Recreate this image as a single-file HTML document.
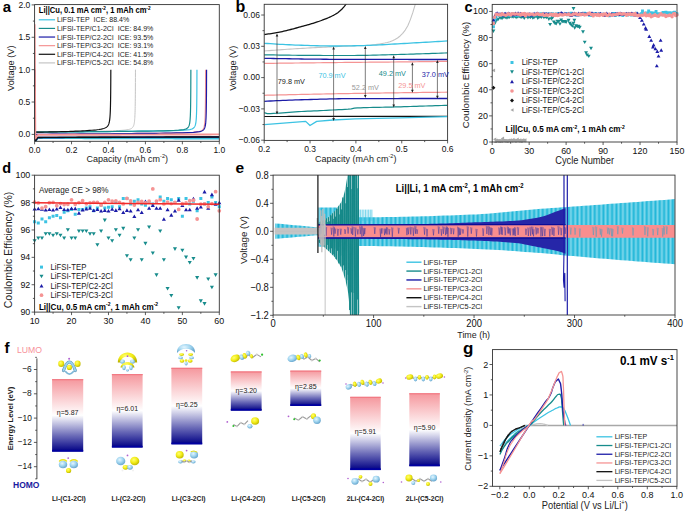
<!DOCTYPE html>
<html><head><meta charset="utf-8"><style>
html,body{margin:0;padding:0;background:#fff;width:685px;height:511px;overflow:hidden}
svg{display:block}
text{font-family:"Liberation Sans",sans-serif}
</style></head><body>
<svg width="685" height="511" viewBox="0 0 685 511">
<rect width="685" height="511" fill="#fff"/>
<clipPath id="ca"><rect x="34.6" y="4.6" width="184.7" height="136.7"/></clipPath>
<g clip-path="url(#ca)">
<polyline points="35.34,132.15 38.54,132.1 41.75,132.06 44.95,132.01 48.15,131.97 51.36,131.92 54.56,131.87 57.76,131.83 60.97,131.78 64.17,131.73 67.37,131.69 70.58,131.64 73.78,131.59 76.99,131.54 80.19,131.48 83.39,131.43 86.6,131.38 89.8,131.32 93,131.26 96.21,131.2 99.41,131.14 102.61,131.07 105.82,130.99 109.02,130.9 112.22,130.81 115.43,130.69 118.63,130.55 121.84,130.36 125.04,130.09 128.24,129.61 128.24,129.61 128.93,129.45 129.55,129.28 130.11,129.09 130.63,128.88 131.09,128.66 131.51,128.41 131.89,128.14 132.24,127.84 132.55,127.51 132.84,127.15 133.1,126.75 133.33,126.31 133.55,125.83 133.74,125.3 133.91,124.72 134.07,124.08 134.22,123.37 134.35,122.59 134.47,121.73 134.58,120.78 134.67,119.74 134.76,118.59 134.84,117.32 134.92,115.92 134.98,114.38 135.04,112.68 135.1,110.81 135.15,108.75 135.19,106.48 135.23,103.98 135.27,101.22 135.3,98.18 135.33,94.82 135.36,91.13 135.39,87.06 135.41,82.57 135.43,77.62 135.45,72.17 135.46,69.65" fill="none" stroke="#c4c4c4" stroke-width="1.0" stroke-linejoin="round" />
<polyline points="35.34,132.19 40.66,132.15 45.99,132.1 51.31,132.06 56.64,132.01 61.96,131.97 67.29,131.92 72.61,131.87 77.93,131.83 83.26,131.78 88.58,131.73 93.91,131.69 99.23,131.64 104.56,131.59 109.88,131.54 115.21,131.49 120.53,131.44 125.85,131.39 131.18,131.33 136.5,131.27 141.83,131.21 147.15,131.15 152.48,131.08 157.8,131.01 163.13,130.92 168.45,130.82 173.77,130.69 179.1,130.52 184.42,130.22 189.75,129.57 189.75,129.57 190.43,129.42 191.05,129.25 191.62,129.06 192.13,128.86 192.59,128.63 193.02,128.39 193.4,128.12 193.74,127.82 194.06,127.5 194.34,127.14 194.6,126.74 194.84,126.3 195.05,125.82 195.24,125.29 195.42,124.71 195.58,124.07 195.72,123.36 195.85,122.58 195.97,121.72 196.08,120.77 196.18,119.73 196.27,118.58 196.35,117.31 196.42,115.92 196.49,114.38 196.55,112.68 196.6,110.81 196.65,108.75 196.7,106.48 196.74,103.97 196.77,101.22 196.81,98.17 196.84,94.82 196.87,91.13 196.89,87.05 196.91,82.57 196.93,77.62 196.95,72.17 196.96,69.65" fill="none" stroke="#3cc3e3" stroke-width="1.2" stroke-linejoin="round" />
<polyline points="35.34,132.19 40.45,132.14 45.57,132.1 50.68,132.05 55.8,132.01 60.91,131.96 66.02,131.92 71.14,131.87 76.25,131.82 81.37,131.78 86.48,131.73 91.6,131.68 96.71,131.64 101.82,131.59 106.94,131.54 112.05,131.49 117.17,131.43 122.28,131.38 127.4,131.33 132.51,131.27 137.62,131.21 142.74,131.15 147.85,131.08 152.97,131 158.08,130.91 163.2,130.81 168.31,130.68 173.42,130.5 178.54,130.21 183.65,129.57 183.65,129.57 184.34,129.42 184.96,129.25 185.52,129.06 186.04,128.86 186.5,128.64 186.92,128.39 187.3,128.12 187.65,127.82 187.96,127.5 188.25,127.14 188.51,126.74 188.74,126.3 188.96,125.82 189.15,125.29 189.32,124.71 189.48,124.07 189.63,123.36 189.76,122.58 189.88,121.72 189.99,120.78 190.08,119.73 190.17,118.58 190.25,117.31 190.33,115.92 190.39,114.38 190.45,112.68 190.51,110.81 190.56,108.75 190.6,106.48 190.64,103.98 190.68,101.22 190.71,98.17 190.74,94.82 190.77,91.13 190.8,87.05 190.82,82.57 190.84,77.62 190.86,72.17 190.87,69.65" fill="none" stroke="#178c8c" stroke-width="1.2" stroke-linejoin="round" />
<polyline points="35.34,134.33 40.96,134.29 46.59,134.24 52.21,134.2 57.83,134.15 63.46,134.11 69.08,134.06 74.71,134.01 80.33,133.97 85.95,133.92 91.58,133.87 97.2,133.83 102.82,133.78 108.45,133.73 114.07,133.68 119.7,133.63 125.32,133.58 130.94,133.53 136.57,133.47 142.19,133.42 147.81,133.36 153.44,133.3 159.06,133.23 164.69,133.15 170.31,133.07 175.93,132.97 181.56,132.84 187.18,132.67 192.81,132.38 198.43,131.7 198.43,131.7 199.11,131.55 199.74,131.38 200.3,131.2 200.81,130.99 201.28,130.77 201.7,130.52 202.08,130.25 202.43,129.96 202.74,129.63 203.03,129.27 203.28,128.87 203.52,128.44 203.73,127.96 203.93,127.43 204.1,126.85 204.26,126.2 204.4,125.5 204.54,124.72 204.65,123.86 204.76,122.91 204.86,121.87 204.95,120.72 205.03,119.45 205.1,118.05 205.17,116.51 205.23,114.82 205.28,112.95 205.33,110.89 205.38,108.62 205.42,106.11 205.46,103.35 205.49,100.31 205.52,96.96 205.55,93.26 205.57,89.19 205.59,84.7 205.62,79.75 205.63,74.3 205.65,69.65" fill="none" stroke="#f59494" stroke-width="1.2" stroke-linejoin="round" />
<polyline points="35.34,134.33 40.99,134.29 46.65,134.24 52.31,134.2 57.96,134.15 63.62,134.11 69.27,134.06 74.93,134.01 80.58,133.97 86.24,133.92 91.9,133.88 97.55,133.83 103.21,133.78 108.86,133.73 114.52,133.68 120.17,133.63 125.83,133.58 131.48,133.53 137.14,133.47 142.8,133.42 148.45,133.36 154.11,133.3 159.76,133.23 165.42,133.16 171.07,133.07 176.73,132.97 182.39,132.85 188.04,132.67 193.7,132.38 199.35,131.7 199.35,131.7 200.04,131.55 200.66,131.38 201.22,131.2 201.73,130.99 202.2,130.77 202.62,130.52 203,130.25 203.35,129.96 203.66,129.63 203.95,129.27 204.21,128.87 204.44,128.44 204.66,127.96 204.85,127.43 205.02,126.85 205.18,126.2 205.33,125.5 205.46,124.72 205.58,123.86 205.69,122.91 205.78,121.87 205.87,120.72 205.95,119.45 206.03,118.05 206.09,116.51 206.15,114.82 206.21,112.95 206.26,110.89 206.3,108.62 206.34,106.11 206.38,103.35 206.41,100.31 206.44,96.96 206.47,93.26 206.5,89.19 206.52,84.7 206.54,79.75 206.56,74.3 206.57,69.65" fill="none" stroke="#1c1ca8" stroke-width="1.2" stroke-linejoin="round" />
<polyline points="35.34,132.07 37.7,132.06 40.05,132.05 42.41,132.03 44.76,132.01 47.12,131.98 49.48,131.94 51.83,131.91 54.19,131.86 56.55,131.81 58.9,131.76 61.26,131.7 63.62,131.63 65.97,131.56 68.33,131.49 70.69,131.4 73.04,131.31 75.4,131.22 77.76,131.11 80.11,131 82.47,130.87 84.83,130.74 87.18,130.59 89.54,130.43 91.9,130.24 94.25,130.03 96.61,129.78 98.96,129.47 101.32,129.07 103.68,128.47 103.68,128.47 104.31,128.25 104.89,128.02 105.42,127.77 105.91,127.51 106.35,127.22 106.76,126.91 107.13,126.58 107.47,126.22 107.78,125.82 108.06,125.4 108.32,124.93 108.55,124.43 108.77,123.88 108.97,123.28 109.15,122.62 109.31,121.91 109.46,121.13 109.6,120.28 109.73,119.35 109.84,118.33 109.95,117.22 110.04,116.01 110.13,114.68 110.21,113.23 110.29,111.64 110.35,109.91 110.41,108.01 110.47,105.93 110.52,103.66 110.57,101.18 110.61,98.46 110.65,95.49 110.69,92.23 110.72,88.68 110.75,84.78 110.78,80.53 110.8,75.87 110.82,70.77 110.83,69.65" fill="none" stroke="#111" stroke-width="1.2" stroke-linejoin="round" />
<polyline points="34.6,69.65 35.34,140.88 37.73,137.24 40.86,137.23 43.99,137.22 47.12,137.21 50.25,137.21 53.38,137.2 56.51,137.19 59.64,137.18 62.77,137.17 65.91,137.16 69.04,137.15 72.17,137.14 75.3,137.13 78.43,137.13 81.56,137.12 84.69,137.11 87.82,137.1 90.95,137.09 94.08,137.08 97.21,137.07 100.34,137.06 103.47,137.06 106.6,137.05 109.73,137.04 112.86,137.03 115.99,137.02 119.12,137.01 122.25,137 125.38,136.99 128.52,136.99 131.65,136.98 134.78,136.97 137.91,136.96 141.04,136.95 144.17,136.94 147.3,136.93 150.43,136.92 153.56,136.92 156.69,136.91 159.82,136.9 162.95,136.89 166.08,136.88 169.21,136.87 172.34,136.86 175.47,136.85 178.6,136.85 181.73,136.84 184.86,136.83 187.99,136.82 191.13,136.81 194.26,136.8 197.39,136.79 200.52,136.78 203.65,136.77 206.78,136.77 209.91,136.76 213.04,136.75 216.17,136.74 219.3,136.73" fill="none" stroke="#c4c4c4" stroke-width="1.0" stroke-linejoin="round" />
<polyline points="34.6,69.65 35.34,142.43 37.73,138.29 40.86,138.3 43.99,138.31 47.12,138.32 50.25,138.33 53.38,138.34 56.51,138.35 59.64,138.36 62.77,138.36 65.91,138.37 69.04,138.38 72.17,138.39 75.3,138.4 78.43,138.41 81.56,138.42 84.69,138.43 87.82,138.43 90.95,138.44 94.08,138.45 97.21,138.46 100.34,138.47 103.47,138.48 106.6,138.49 109.73,138.5 112.86,138.5 115.99,138.51 119.12,138.52 122.25,138.53 125.38,138.54 128.52,138.55 131.65,138.56 134.78,138.57 137.91,138.57 141.04,138.58 144.17,138.59 147.3,138.6 150.43,138.61 153.56,138.62 156.69,138.63 159.82,138.64 162.95,138.64 166.08,138.65 169.21,138.66 172.34,138.67 175.47,138.68 178.6,138.69 181.73,138.7 184.86,138.71 187.99,138.72 191.13,138.72 194.26,138.73 197.39,138.74 200.52,138.75 203.65,138.76 206.78,138.77 209.91,138.78 213.04,138.79 216.17,138.79 219.3,138.8" fill="none" stroke="#3cc3e3" stroke-width="1.4" stroke-linejoin="round" />
<polyline points="34.6,69.65 35.34,141.26 37.73,137.63 40.86,137.62 43.99,137.61 47.12,137.6 50.25,137.59 53.38,137.58 56.51,137.58 59.64,137.57 62.77,137.56 65.91,137.55 69.04,137.54 72.17,137.53 75.3,137.52 78.43,137.51 81.56,137.51 84.69,137.5 87.82,137.49 90.95,137.48 94.08,137.47 97.21,137.46 100.34,137.45 103.47,137.44 106.6,137.44 109.73,137.43 112.86,137.42 115.99,137.41 119.12,137.4 122.25,137.39 125.38,137.38 128.52,137.37 131.65,137.37 134.78,137.36 137.91,137.35 141.04,137.34 144.17,137.33 147.3,137.32 150.43,137.31 153.56,137.3 156.69,137.3 159.82,137.29 162.95,137.28 166.08,137.27 169.21,137.26 172.34,137.25 175.47,137.24 178.6,137.23 181.73,137.22 184.86,137.22 187.99,137.21 191.13,137.2 194.26,137.19 197.39,137.18 200.52,137.17 203.65,137.16 206.78,137.15 209.91,137.15 213.04,137.14 216.17,137.13 219.3,137.12" fill="none" stroke="#178c8c" stroke-width="1.4" stroke-linejoin="round" />
<polyline points="34.6,69.65 35.34,141.13 37.73,137.5 40.86,137.49 43.99,137.48 47.12,137.47 50.25,137.46 53.38,137.46 56.51,137.45 59.64,137.44 62.77,137.43 65.91,137.42 69.04,137.41 72.17,137.4 75.3,137.39 78.43,137.39 81.56,137.38 84.69,137.37 87.82,137.36 90.95,137.35 94.08,137.34 97.21,137.33 100.34,137.32 103.47,137.31 106.6,137.31 109.73,137.3 112.86,137.29 115.99,137.28 119.12,137.27 122.25,137.26 125.38,137.25 128.52,137.24 131.65,137.24 134.78,137.23 137.91,137.22 141.04,137.21 144.17,137.2 147.3,137.19 150.43,137.18 153.56,137.17 156.69,137.17 159.82,137.16 162.95,137.15 166.08,137.14 169.21,137.13 172.34,137.12 175.47,137.11 178.6,137.1 181.73,137.1 184.86,137.09 187.99,137.08 191.13,137.07 194.26,137.06 197.39,137.05 200.52,137.04 203.65,137.03 206.78,137.03 209.91,137.02 213.04,137.01 216.17,137 219.3,136.99" fill="none" stroke="#1c1ca8" stroke-width="1.4" stroke-linejoin="round" />
<polyline points="34.6,69.65 35.34,141.07 37.73,137.43 40.86,137.43 43.99,137.42 47.12,137.41 50.25,137.4 53.38,137.39 56.51,137.38 59.64,137.37 62.77,137.36 65.91,137.36 69.04,137.35 72.17,137.34 75.3,137.33 78.43,137.32 81.56,137.31 84.69,137.3 87.82,137.29 90.95,137.29 94.08,137.28 97.21,137.27 100.34,137.26 103.47,137.25 106.6,137.24 109.73,137.23 112.86,137.22 115.99,137.21 119.12,137.21 122.25,137.2 125.38,137.19 128.52,137.18 131.65,137.17 134.78,137.16 137.91,137.15 141.04,137.14 144.17,137.14 147.3,137.13 150.43,137.12 153.56,137.11 156.69,137.1 159.82,137.09 162.95,137.08 166.08,137.07 169.21,137.07 172.34,137.06 175.47,137.05 178.6,137.04 181.73,137.03 184.86,137.02 187.99,137.01 191.13,137 194.26,137 197.39,136.99 200.52,136.98 203.65,136.97 206.78,136.96 209.91,136.95 213.04,136.94 216.17,136.93 219.3,136.93" fill="none" stroke="#111" stroke-width="1.4" stroke-linejoin="round" />
<polyline points="34.6,24.33 35.34,138.54 37.73,134.91 40.86,134.9 43.99,134.89 47.12,134.88 50.25,134.87 53.38,134.87 56.51,134.86 59.64,134.85 62.77,134.84 65.91,134.83 69.04,134.82 72.17,134.81 75.3,134.8 78.43,134.8 81.56,134.79 84.69,134.78 87.82,134.77 90.95,134.76 94.08,134.75 97.21,134.74 100.34,134.73 103.47,134.72 106.6,134.72 109.73,134.71 112.86,134.7 115.99,134.69 119.12,134.68 122.25,134.67 125.38,134.66 128.52,134.65 131.65,134.65 134.78,134.64 137.91,134.63 141.04,134.62 144.17,134.61 147.3,134.6 150.43,134.59 153.56,134.58 156.69,134.58 159.82,134.57 162.95,134.56 166.08,134.55 169.21,134.54 172.34,134.53 175.47,134.52 178.6,134.51 181.73,134.51 184.86,134.5 187.99,134.49 191.13,134.48 194.26,134.47 197.39,134.46 200.52,134.45 203.65,134.44 206.78,134.44 209.91,134.43 213.04,134.42 216.17,134.41 219.3,134.4" fill="none" stroke="#f59494" stroke-width="1.9" stroke-linejoin="round" />
</g>
<rect x="34.6" y="4.6" width="184.7" height="136.7" fill="none" stroke="#333" stroke-width="0.9"/>
<line x1="34.6" y1="141.3" x2="34.6" y2="144.3" stroke="#333" stroke-width="0.8" />
<text transform="translate(34.6,152.7) scale(1,1.1)" font-size="8.5" text-anchor="middle" fill="#111" >0.0</text>
<line x1="71.54" y1="141.3" x2="71.54" y2="144.3" stroke="#333" stroke-width="0.8" />
<text transform="translate(71.54,152.7) scale(1,1.1)" font-size="8.5" text-anchor="middle" fill="#111" >0.2</text>
<line x1="108.48" y1="141.3" x2="108.48" y2="144.3" stroke="#333" stroke-width="0.8" />
<text transform="translate(108.48,152.7) scale(1,1.1)" font-size="8.5" text-anchor="middle" fill="#111" >0.4</text>
<line x1="145.42" y1="141.3" x2="145.42" y2="144.3" stroke="#333" stroke-width="0.8" />
<text transform="translate(145.42,152.7) scale(1,1.1)" font-size="8.5" text-anchor="middle" fill="#111" >0.6</text>
<line x1="182.36" y1="141.3" x2="182.36" y2="144.3" stroke="#333" stroke-width="0.8" />
<text transform="translate(182.36,152.7) scale(1,1.1)" font-size="8.5" text-anchor="middle" fill="#111" >0.8</text>
<line x1="219.3" y1="141.3" x2="219.3" y2="144.3" stroke="#333" stroke-width="0.8" />
<text transform="translate(219.3,152.7) scale(1,1.1)" font-size="8.5" text-anchor="middle" fill="#111" >1.0</text>
<line x1="53.07" y1="141.3" x2="53.07" y2="143" stroke="#333" stroke-width="0.8" />
<line x1="90.01" y1="141.3" x2="90.01" y2="143" stroke="#333" stroke-width="0.8" />
<line x1="126.95" y1="141.3" x2="126.95" y2="143" stroke="#333" stroke-width="0.8" />
<line x1="163.89" y1="141.3" x2="163.89" y2="143" stroke="#333" stroke-width="0.8" />
<line x1="200.83" y1="141.3" x2="200.83" y2="143" stroke="#333" stroke-width="0.8" />
<line x1="31.6" y1="134.4" x2="34.6" y2="134.4" stroke="#333" stroke-width="0.8" />
<text transform="translate(30.3,137.29) scale(1,1.1)" font-size="8.5" text-anchor="end" fill="#111" >0.0</text>
<line x1="31.6" y1="102.03" x2="34.6" y2="102.03" stroke="#333" stroke-width="0.8" />
<text transform="translate(30.3,104.92) scale(1,1.1)" font-size="8.5" text-anchor="end" fill="#111" >0.5</text>
<line x1="31.6" y1="69.65" x2="34.6" y2="69.65" stroke="#333" stroke-width="0.8" />
<text transform="translate(30.3,72.54) scale(1,1.1)" font-size="8.5" text-anchor="end" fill="#111" >1.0</text>
<line x1="31.6" y1="37.28" x2="34.6" y2="37.28" stroke="#333" stroke-width="0.8" />
<text transform="translate(30.3,40.17) scale(1,1.1)" font-size="8.5" text-anchor="end" fill="#111" >1.5</text>
<line x1="31.6" y1="4.9" x2="34.6" y2="4.9" stroke="#333" stroke-width="0.8" />
<text transform="translate(30.3,7.79) scale(1,1.1)" font-size="8.5" text-anchor="end" fill="#111" >2.0</text>
<line x1="32.9" y1="118.21" x2="34.6" y2="118.21" stroke="#333" stroke-width="0.8" />
<line x1="32.9" y1="85.84" x2="34.6" y2="85.84" stroke="#333" stroke-width="0.8" />
<line x1="32.9" y1="53.46" x2="34.6" y2="53.46" stroke="#333" stroke-width="0.8" />
<line x1="32.9" y1="21.09" x2="34.6" y2="21.09" stroke="#333" stroke-width="0.8" />
<text transform="translate(86.6,162) scale(1,1.1)" font-size="9.0" text-anchor="start" fill="#222" >Capacity (mAh cm<tspan dy="-3.42" font-size="5.58">-2</tspan><tspan dy="3.42">)</tspan></text>
<text transform="translate(14.2,68.2) rotate(-90) scale(1,1.0)" font-size="9.2" text-anchor="middle" fill="#222">Voltage (V)</text>
<text transform="translate(2.8,11.6) scale(1,1.0)" font-size="15" text-anchor="start" fill="#000" font-weight="bold" >a</text>
<text transform="translate(38.8,12.9) scale(1,1.1)" font-size="7.6" text-anchor="start" fill="#000" font-weight="bold" >Li||Cu, 0.1 mA cm<tspan dy="-2.89" font-size="4.71">-2</tspan><tspan dy="2.89">, 1 mAh cm<tspan dy="-2.89" font-size="4.71">-2</tspan><tspan dy="2.89"></tspan></tspan></text>
<line x1="38.75" y1="19.8" x2="55.1" y2="19.8" stroke="#3cc3e3" stroke-width="1.2" />
<text transform="translate(57.1,22.3) scale(1,1.1)" font-size="7.05" text-anchor="start" fill="#1a1a1a" >LiFSI-TEP</text>
<text transform="translate(93.6,22.3) scale(1,1.1)" font-size="7.05" text-anchor="start" fill="#1a1a1a" >ICE: 88.4%</text>
<line x1="38.75" y1="28.42" x2="55.1" y2="28.42" stroke="#178c8c" stroke-width="1.2" />
<text transform="translate(57.1,30.92) scale(1,1.1)" font-size="7.05" text-anchor="start" fill="#1a1a1a" >LiFSI-TEP/C1-2Cl</text>
<text transform="translate(117.7,30.92) scale(1,1.1)" font-size="7.05" text-anchor="start" fill="#1a1a1a" >ICE: 84.9%</text>
<line x1="38.75" y1="37.04" x2="55.1" y2="37.04" stroke="#1c1ca8" stroke-width="1.2" />
<text transform="translate(57.1,39.54) scale(1,1.1)" font-size="7.05" text-anchor="start" fill="#1a1a1a" >LiFSI-TEP/C2-2Cl</text>
<text transform="translate(117.7,39.54) scale(1,1.1)" font-size="7.05" text-anchor="start" fill="#1a1a1a" >ICE: 93.5%</text>
<line x1="38.75" y1="45.66" x2="55.1" y2="45.66" stroke="#f59494" stroke-width="1.2" />
<text transform="translate(57.1,48.16) scale(1,1.1)" font-size="7.05" text-anchor="start" fill="#1a1a1a" >LiFSI-TEP/C3-2Cl</text>
<text transform="translate(117.7,48.16) scale(1,1.1)" font-size="7.05" text-anchor="start" fill="#1a1a1a" >ICE: 93.1%</text>
<line x1="38.75" y1="54.28" x2="55.1" y2="54.28" stroke="#111" stroke-width="1.2" />
<text transform="translate(57.1,56.78) scale(1,1.1)" font-size="7.05" text-anchor="start" fill="#1a1a1a" >LiFSI-TEP/C4-2Cl</text>
<text transform="translate(117.7,56.78) scale(1,1.1)" font-size="7.05" text-anchor="start" fill="#1a1a1a" >ICE: 41.5%</text>
<line x1="38.75" y1="62.9" x2="55.1" y2="62.9" stroke="#c4c4c4" stroke-width="1.2" />
<text transform="translate(57.1,65.4) scale(1,1.1)" font-size="7.05" text-anchor="start" fill="#1a1a1a" >LiFSI-TEP/C5-2Cl</text>
<text transform="translate(117.7,65.4) scale(1,1.1)" font-size="7.05" text-anchor="start" fill="#1a1a1a" >ICE: 54.8%</text>
<clipPath id="cb"><rect x="264.2" y="4.3" width="183.4" height="136.1"/></clipPath>
<g clip-path="url(#cb)">
<polyline points="264.2,34.5 265.59,34.33 266.99,34.16 268.38,33.97 269.78,33.77 271.17,33.57 272.57,33.35 273.96,33.13 275.36,32.89 276.75,32.64 278.15,32.39 279.54,32.11 280.94,31.83 282.33,31.53 283.73,31.21 285.12,30.89 286.52,30.55 287.91,30.21 289.31,29.86 290.7,29.5 292.1,29.13 293.49,28.76 294.89,28.38 296.28,28 297.68,27.61 299.07,27.23 300.47,26.84 301.86,26.45 303.26,26.07 304.65,25.68 306.05,25.3 307.44,24.91 308.84,24.52 310.23,24.12 311.63,23.71 313.02,23.29 314.42,22.87 315.81,22.42 317.21,21.97 318.6,21.49 320,21 321.39,20.5 322.79,19.98 324.18,19.45 325.58,18.91 326.97,18.34 328.37,17.75 329.76,17.13 331.16,16.47 332.55,15.78 333.95,15.05 335.34,14.27 336.74,13.42 338.13,12.43 339.53,11.31 340.92,10.07 342.32,8.69 343.71,7.12 345.11,5.38 346.5,3.5" fill="none" stroke="#111" stroke-width="1.3" stroke-linejoin="round" />
<polyline points="264.2,51 266.76,50.8 269.33,50.6 271.89,50.41 274.46,50.22 277.02,50.03 279.59,49.84 282.15,49.66 284.72,49.48 287.28,49.31 289.84,49.13 292.41,48.97 294.97,48.81 297.54,48.65 300.1,48.49 302.67,48.34 305.23,48.2 307.79,48.05 310.36,47.9 312.92,47.76 315.49,47.62 318.05,47.48 320.62,47.35 323.18,47.21 325.75,47.08 328.31,46.95 330.87,46.83 333.44,46.71 336,46.59 338.57,46.47 341.13,46.36 343.7,46.25 346.26,46.15 348.83,46.05 351.39,45.95 353.95,45.87 356.52,45.8 359.08,45.73 361.65,45.65 364.21,45.55 366.78,45.42 369.34,45.23 371.91,44.99 374.47,44.7 377.03,44.36 379.6,43.97 382.16,43.53 384.73,43.05 387.29,42.47 389.86,41.68 392.42,40.7 394.98,39.52 397.55,38.05 400.11,35.97 402.68,33.36 405.24,30.06 407.81,25.67 410.37,19.62 412.94,12.18 415.5,3.5" fill="none" stroke="#c4c4c4" stroke-width="1.1" stroke-linejoin="round" />
<polyline points="264.2,43.3 267.31,43.51 270.42,43.71 273.53,43.91 276.63,44.1 279.74,44.28 282.85,44.45 285.96,44.61 289.07,44.76 292.18,44.9 295.28,45.03 298.39,45.15 301.5,45.25 304.61,45.35 307.72,45.46 310.83,45.56 313.94,45.65 317.04,45.74 320.15,45.82 323.26,45.89 326.37,45.94 329.48,45.98 332.59,46 335.69,46 338.8,45.98 341.91,45.95 345.02,45.91 348.13,45.86 351.24,45.81 354.35,45.75 357.45,45.68 360.56,45.61 363.67,45.53 366.78,45.45 369.89,45.35 373,45.22 376.11,45.08 379.21,44.92 382.32,44.74 385.43,44.56 388.54,44.38 391.65,44.19 394.76,44 397.86,43.82 400.97,43.65 404.08,43.48 407.19,43.3 410.3,43.13 413.41,42.95 416.52,42.77 419.62,42.59 422.73,42.41 425.84,42.23 428.95,42.04 432.06,41.86 435.17,41.67 438.27,41.48 441.38,41.29 444.49,41.1 447.6,40.9" fill="none" stroke="#3cc3e3" stroke-width="1.3" stroke-linejoin="round" />
<polyline points="264.2,54.8 267.31,54.86 270.42,54.91 273.53,54.96 276.63,55.01 279.74,55.06 282.85,55.11 285.96,55.15 289.07,55.19 292.18,55.23 295.28,55.27 298.39,55.31 301.5,55.34 304.61,55.37 307.72,55.39 310.83,55.42 313.94,55.44 317.04,55.46 320.15,55.47 323.26,55.48 326.37,55.49 329.48,55.5 332.59,55.5 335.69,55.5 338.8,55.5 341.91,55.5 345.02,55.5 348.13,55.5 351.24,55.5 354.35,55.48 357.45,55.46 360.56,55.42 363.67,55.36 366.78,55.3 369.89,55.23 373,55.16 376.11,55.08 379.21,54.99 382.32,54.91 385.43,54.82 388.54,54.73 391.65,54.65 394.76,54.57 397.86,54.49 400.97,54.41 404.08,54.33 407.19,54.24 410.3,54.15 413.41,54.06 416.52,53.97 419.62,53.87 422.73,53.77 425.84,53.67 428.95,53.57 432.06,53.46 435.17,53.35 438.27,53.24 441.38,53.13 444.49,53.02 447.6,52.9" fill="none" stroke="#178c8c" stroke-width="1.2" stroke-linejoin="round" />
<polyline points="264.2,58.3 267.31,58.36 270.42,58.42 273.53,58.48 276.63,58.54 279.74,58.6 282.85,58.66 285.96,58.72 289.07,58.77 292.18,58.83 295.28,58.88 298.39,58.93 301.5,58.98 304.61,59.03 307.72,59.07 310.83,59.12 313.94,59.15 317.04,59.19 320.15,59.22 323.26,59.24 326.37,59.27 329.48,59.29 332.59,59.3 335.69,59.31 338.8,59.32 341.91,59.33 345.02,59.34 348.13,59.35 351.24,59.36 354.35,59.37 357.45,59.37 360.56,59.38 363.67,59.39 366.78,59.4 369.89,59.41 373,59.41 376.11,59.42 379.21,59.43 382.32,59.43 385.43,59.44 388.54,59.44 391.65,59.45 394.76,59.46 397.86,59.46 400.97,59.47 404.08,59.47 407.19,59.47 410.3,59.48 413.41,59.48 416.52,59.48 419.62,59.49 422.73,59.49 425.84,59.49 428.95,59.49 432.06,59.5 435.17,59.5 438.27,59.5 441.38,59.5 444.49,59.5 447.6,59.5" fill="none" stroke="#1c1ca8" stroke-width="1.3" stroke-linejoin="round" />
<polyline points="264.2,63.4 267.31,63.36 270.42,63.32 273.53,63.28 276.63,63.24 279.74,63.2 282.85,63.17 285.96,63.13 289.07,63.09 292.18,63.05 295.28,63.02 298.39,62.98 301.5,62.94 304.61,62.9 307.72,62.87 310.83,62.83 313.94,62.8 317.04,62.76 320.15,62.73 323.26,62.69 326.37,62.66 329.48,62.62 332.59,62.59 335.69,62.55 338.8,62.52 341.91,62.49 345.02,62.45 348.13,62.42 351.24,62.39 354.35,62.36 357.45,62.32 360.56,62.29 363.67,62.27 366.78,62.24 369.89,62.21 373,62.18 376.11,62.15 379.21,62.12 382.32,62.1 385.43,62.07 388.54,62.04 391.65,62.01 394.76,61.98 397.86,61.95 400.97,61.92 404.08,61.89 407.19,61.85 410.3,61.82 413.41,61.78 416.52,61.75 419.62,61.71 422.73,61.67 425.84,61.62 428.95,61.58 432.06,61.54 435.17,61.49 438.27,61.44 441.38,61.4 444.49,61.35 447.6,61.3" fill="none" stroke="#f59494" stroke-width="1.2" stroke-linejoin="round" />
<polyline points="264.2,95.3 267.31,95.22 270.42,95.15 273.53,95.07 276.63,95 279.74,94.93 282.85,94.85 285.96,94.78 289.07,94.71 292.18,94.64 295.28,94.57 298.39,94.5 301.5,94.43 304.61,94.37 307.72,94.3 310.83,94.23 313.94,94.17 317.04,94.11 320.15,94.04 323.26,93.98 326.37,93.92 329.48,93.86 332.59,93.8 335.69,93.75 338.8,93.69 341.91,93.64 345.02,93.58 348.13,93.53 351.24,93.48 354.35,93.43 357.45,93.38 360.56,93.33 363.67,93.28 366.78,93.23 369.89,93.18 373,93.14 376.11,93.09 379.21,93.04 382.32,93 385.43,92.95 388.54,92.91 391.65,92.86 394.76,92.82 397.86,92.78 400.97,92.73 404.08,92.69 407.19,92.65 410.3,92.61 413.41,92.57 416.52,92.53 419.62,92.5 422.73,92.46 425.84,92.42 428.95,92.39 432.06,92.36 435.17,92.32 438.27,92.29 441.38,92.26 444.49,92.23 447.6,92.2" fill="none" stroke="#f59494" stroke-width="1.2" stroke-linejoin="round" />
<polyline points="264.2,101.3 267.31,101.15 270.42,100.99 273.53,100.85 276.63,100.7 279.74,100.56 282.85,100.43 285.96,100.3 289.07,100.17 292.18,100.06 295.28,99.95 298.39,99.85 301.5,99.76 304.61,99.66 307.72,99.57 310.83,99.48 313.94,99.39 317.04,99.3 320.15,99.21 323.26,99.12 326.37,99.04 329.48,98.97 332.59,98.89 335.69,98.83 338.8,98.77 341.91,98.72 345.02,98.68 348.13,98.64 351.24,98.62 354.35,98.6 357.45,98.59 360.56,98.59 363.67,98.58 366.78,98.58 369.89,98.57 373,98.56 376.11,98.56 379.21,98.55 382.32,98.55 385.43,98.54 388.54,98.54 391.65,98.54 394.76,98.53 397.86,98.53 400.97,98.52 404.08,98.52 407.19,98.52 410.3,98.52 413.41,98.51 416.52,98.51 419.62,98.51 422.73,98.51 425.84,98.51 428.95,98.5 432.06,98.5 435.17,98.5 438.27,98.5 441.38,98.5 444.49,98.5 447.6,98.5" fill="none" stroke="#1c1ca8" stroke-width="1.3" stroke-linejoin="round" />
<polyline points="264.2,112.6 267.31,113.59 270.42,113.53 273.53,113.42 276.63,113.26 279.74,113.06 282.85,112.84 285.96,112.6 289.07,112.35 292.18,112.12 295.28,111.89 298.39,111.69 301.5,111.52 304.61,111.36 307.72,111.21 310.83,111.06 313.94,110.92 317.04,110.78 320.15,110.63 323.26,110.49 326.37,110.34 329.48,110.18 332.59,110.02 335.69,109.86 338.8,109.72 341.91,109.56 345.02,109.39 348.13,109.16 351.24,108.83 354.35,108.2 357.45,107.92 360.56,107.78 363.67,107.66 366.78,107.56 369.89,107.48 373,107.41 376.11,107.35 379.21,107.3 382.32,107.24 385.43,107.19 388.54,107.13 391.65,107.06 394.76,106.97 397.86,106.88 400.97,106.79 404.08,106.7 407.19,106.6 410.3,106.51 413.41,106.41 416.52,106.32 419.62,106.22 422.73,106.12 425.84,106.02 428.95,105.92 432.06,105.82 435.17,105.72 438.27,105.62 441.38,105.51 444.49,105.41 447.6,105.3" fill="none" stroke="#178c8c" stroke-width="1.2" stroke-linejoin="round" />
<polyline points="264.2,116.5 267.31,116.5 270.42,116.49 273.53,116.49 276.63,116.49 279.74,116.48 282.85,116.48 285.96,116.48 289.07,116.47 292.18,116.47 295.28,116.47 298.39,116.46 301.5,116.46 304.61,116.46 307.72,116.45 310.83,116.45 313.94,116.45 317.04,116.44 320.15,116.44 323.26,116.44 326.37,116.43 329.48,116.43 332.59,116.43 335.69,116.42 338.8,116.42 341.91,116.42 345.02,116.41 348.13,116.41 351.24,116.41 354.35,116.4 357.45,116.4 360.56,116.39 363.67,116.39 366.78,116.39 369.89,116.38 373,116.38 376.11,116.38 379.21,116.37 382.32,116.37 385.43,116.37 388.54,116.36 391.65,116.36 394.76,116.36 397.86,116.35 400.97,116.35 404.08,116.35 407.19,116.34 410.3,116.34 413.41,116.34 416.52,116.33 419.62,116.33 422.73,116.33 425.84,116.32 428.95,116.32 432.06,116.32 435.17,116.31 438.27,116.31 441.38,116.31 444.49,116.3 447.6,116.3" fill="none" stroke="#111" stroke-width="1.2" stroke-linejoin="round" />
<polyline points="264.2,124.6 305.7,121.4 310,125.5 316.7,121.4 333,120 355,118.9 400,117.8 447.6,116.7" fill="none" stroke="#3cc3e3" stroke-width="1.3" stroke-linejoin="round" />
<line x1="277" y1="35.1" x2="277" y2="113" stroke="#222" stroke-width="0.6" />
<path d="M277,33.6 l-1.3,3 h2.6 z M277,114.5 l-1.3,-3 h2.6 z" fill="#222"/>
<line x1="333.6" y1="48" x2="333.6" y2="119.5" stroke="#222" stroke-width="0.6" />
<path d="M333.6,46.5 l-1.3,3 h2.6 z M333.6,121 l-1.3,-3 h2.6 z" fill="#222"/>
<line x1="365.3" y1="47.5" x2="365.3" y2="96.5" stroke="#222" stroke-width="0.6" />
<path d="M365.3,46 l-1.3,3 h2.6 z M365.3,98 l-1.3,-3 h2.6 z" fill="#222"/>
<line x1="393.7" y1="56.7" x2="393.7" y2="106" stroke="#222" stroke-width="0.6" />
<path d="M393.7,55.2 l-1.3,3 h2.6 z M393.7,107.5 l-1.3,-3 h2.6 z" fill="#222"/>
<line x1="412.4" y1="63.8" x2="412.4" y2="91.3" stroke="#222" stroke-width="0.6" />
<path d="M412.4,62.3 l-1.3,3 h2.6 z M412.4,92.8 l-1.3,-3 h2.6 z" fill="#222"/>
<line x1="437.4" y1="61.5" x2="437.4" y2="97.3" stroke="#222" stroke-width="0.6" />
<path d="M437.4,60 l-1.3,3 h2.6 z M437.4,98.8 l-1.3,-3 h2.6 z" fill="#222"/>
</g>
<rect x="264.2" y="4.3" width="183.4" height="136.1" fill="none" stroke="#333" stroke-width="0.9"/>
<line x1="264.2" y1="140.4" x2="264.2" y2="143.4" stroke="#333" stroke-width="0.8" />
<text transform="translate(264.2,151.8) scale(1,1.1)" font-size="8.5" text-anchor="middle" fill="#111" >0.2</text>
<line x1="310.05" y1="140.4" x2="310.05" y2="143.4" stroke="#333" stroke-width="0.8" />
<text transform="translate(310.05,151.8) scale(1,1.1)" font-size="8.5" text-anchor="middle" fill="#111" >0.3</text>
<line x1="355.9" y1="140.4" x2="355.9" y2="143.4" stroke="#333" stroke-width="0.8" />
<text transform="translate(355.9,151.8) scale(1,1.1)" font-size="8.5" text-anchor="middle" fill="#111" >0.4</text>
<line x1="401.75" y1="140.4" x2="401.75" y2="143.4" stroke="#333" stroke-width="0.8" />
<text transform="translate(401.75,151.8) scale(1,1.1)" font-size="8.5" text-anchor="middle" fill="#111" >0.5</text>
<line x1="447.6" y1="140.4" x2="447.6" y2="143.4" stroke="#333" stroke-width="0.8" />
<text transform="translate(447.6,151.8) scale(1,1.1)" font-size="8.5" text-anchor="middle" fill="#111" >0.6</text>
<line x1="287.12" y1="140.4" x2="287.12" y2="142.1" stroke="#333" stroke-width="0.8" />
<line x1="332.97" y1="140.4" x2="332.97" y2="142.1" stroke="#333" stroke-width="0.8" />
<line x1="378.82" y1="140.4" x2="378.82" y2="142.1" stroke="#333" stroke-width="0.8" />
<line x1="424.68" y1="140.4" x2="424.68" y2="142.1" stroke="#333" stroke-width="0.8" />
<line x1="261.2" y1="15.02" x2="264.2" y2="15.02" stroke="#333" stroke-width="0.8" />
<text transform="translate(259.9,17.91) scale(1,1.1)" font-size="8.5" text-anchor="end" fill="#111" >0.06</text>
<line x1="261.2" y1="46.31" x2="264.2" y2="46.31" stroke="#333" stroke-width="0.8" />
<text transform="translate(259.9,49.2) scale(1,1.1)" font-size="8.5" text-anchor="end" fill="#111" >0.03</text>
<line x1="261.2" y1="77.6" x2="264.2" y2="77.6" stroke="#333" stroke-width="0.8" />
<text transform="translate(259.9,80.49) scale(1,1.1)" font-size="8.5" text-anchor="end" fill="#111" >0.00</text>
<line x1="261.2" y1="108.89" x2="264.2" y2="108.89" stroke="#333" stroke-width="0.8" />
<text transform="translate(259.9,111.78) scale(1,1.1)" font-size="8.5" text-anchor="end" fill="#111" >−0.03</text>
<line x1="261.2" y1="140.18" x2="264.2" y2="140.18" stroke="#333" stroke-width="0.8" />
<text transform="translate(259.9,143.07) scale(1,1.1)" font-size="8.5" text-anchor="end" fill="#111" >−0.06</text>
<line x1="262.5" y1="30.66" x2="264.2" y2="30.66" stroke="#333" stroke-width="0.8" />
<line x1="262.5" y1="61.95" x2="264.2" y2="61.95" stroke="#333" stroke-width="0.8" />
<line x1="262.5" y1="93.24" x2="264.2" y2="93.24" stroke="#333" stroke-width="0.8" />
<line x1="262.5" y1="124.53" x2="264.2" y2="124.53" stroke="#333" stroke-width="0.8" />
<text transform="translate(315,162) scale(1,1.1)" font-size="9.0" text-anchor="start" fill="#222" >Capacity (mAh cm<tspan dy="-3.42" font-size="5.58">-2</tspan><tspan dy="3.42">)</tspan></text>
<text transform="translate(235.8,68.3) rotate(-90) scale(1,1.0)" font-size="9.1" text-anchor="middle" fill="#222">Voltage (V)</text>
<text transform="translate(235.6,11.7) scale(1,1.0)" font-size="16" text-anchor="start" fill="#000" font-weight="bold" >b</text>
<text transform="translate(277.8,84) scale(1,1.1)" font-size="7.3" text-anchor="start" fill="#222" >79.8 mV</text>
<text transform="translate(318.4,77.6) scale(1,1.1)" font-size="7.3" text-anchor="start" fill="#3cc3e3" >70.9 mV</text>
<text transform="translate(351.8,90) scale(1,1.1)" font-size="7.3" text-anchor="start" fill="#999" >52.2 mV</text>
<text transform="translate(378.8,76.1) scale(1,1.1)" font-size="7.3" text-anchor="start" fill="#178c8c" >49.2 mV</text>
<text transform="translate(398.3,87.6) scale(1,1.1)" font-size="7.3" text-anchor="start" fill="#f59494" >29.5 mV</text>
<text transform="translate(421.7,76.9) scale(1,1.1)" font-size="7.3" text-anchor="start" fill="#1c1ca8" >37.0 mV</text>
<clipPath id="cc"><rect x="488" y="0" width="194" height="143"/></clipPath>
<g clip-path="url(#cc)">
<line x1="494.66" y1="140.43" x2="524.23" y2="140.43" stroke="#a8a8a8" stroke-width="2.2" />
<path d="M491.78,70.45l3.31,-1.9v3.8zM493.01,139.36l3.31,-1.9v3.8zM493.87,142.36l3.31,-1.9v3.8zM494.74,140.42l3.31,-1.9v3.8zM495.6,141.06l3.31,-1.9v3.8zM496.46,140.99l3.31,-1.9v3.8zM497.32,140.84l3.31,-1.9v3.8zM498.19,142.01l3.31,-1.9v3.8zM499.05,140.85l3.31,-1.9v3.8zM499.91,141.26l3.31,-1.9v3.8zM500.77,138.52l3.31,-1.9v3.8zM501.63,140.55l3.31,-1.9v3.8zM502.5,140.92l3.31,-1.9v3.8zM503.36,140.88l3.31,-1.9v3.8zM504.22,141.13l3.31,-1.9v3.8zM505.08,141.38l3.31,-1.9v3.8zM505.95,140.95l3.31,-1.9v3.8zM506.81,140.38l3.31,-1.9v3.8zM507.67,140.85l3.31,-1.9v3.8zM508.53,140.07l3.31,-1.9v3.8zM509.4,140.82l3.31,-1.9v3.8zM510.26,140.68l3.31,-1.9v3.8zM511.12,139.69l3.31,-1.9v3.8zM511.98,140.34l3.31,-1.9v3.8zM512.85,141.02l3.31,-1.9v3.8zM513.71,140.81l3.31,-1.9v3.8zM514.57,140.34l3.31,-1.9v3.8zM515.43,139.43l3.31,-1.9v3.8zM516.3,140.87l3.31,-1.9v3.8zM517.16,140.85l3.31,-1.9v3.8zM518.02,140.04l3.31,-1.9v3.8zM518.88,141.27l3.31,-1.9v3.8zM519.75,140.88l3.31,-1.9v3.8zM520.61,140.12l3.31,-1.9v3.8zM521.47,140.32l3.31,-1.9v3.8zM522.33,140.63l3.31,-1.9v3.8zM523.19,140.26l3.31,-1.9v3.8z" fill="#a8a8a8"/>
<path d="M493.43,85.81l2,2l-2,2l-2,-2z" fill="#111"/>
<path d="M491.48,29.58h3.9l-1.95,3.39zM492.71,22.14h3.9l-1.95,3.39zM493.95,19.4h3.9l-1.95,3.39zM495.18,18.22h3.9l-1.95,3.39zM496.41,17.66h3.9l-1.95,3.39zM497.64,15.35h3.9l-1.95,3.39zM498.87,16.46h3.9l-1.95,3.39zM500.11,16.82h3.9l-1.95,3.39zM501.34,15.63h3.9l-1.95,3.39zM502.57,15.33h3.9l-1.95,3.39zM503.8,15.95h3.9l-1.95,3.39zM505.03,16.27h3.9l-1.95,3.39zM506.27,15.57h3.9l-1.95,3.39zM507.5,15.56h3.9l-1.95,3.39zM508.73,14.65h3.9l-1.95,3.39zM509.96,14.99h3.9l-1.95,3.39zM511.19,15.26h3.9l-1.95,3.39zM512.43,14.67h3.9l-1.95,3.39zM513.66,15.39h3.9l-1.95,3.39zM514.89,15.76h3.9l-1.95,3.39zM516.12,14.87h3.9l-1.95,3.39zM517.35,14.88h3.9l-1.95,3.39zM518.59,15.34h3.9l-1.95,3.39zM519.82,15.68h3.9l-1.95,3.39zM521.05,15.08h3.9l-1.95,3.39zM522.28,16.68h3.9l-1.95,3.39zM523.51,14.81h3.9l-1.95,3.39zM524.75,14.93h3.9l-1.95,3.39zM525.98,16.18h3.9l-1.95,3.39zM527.21,15.18h3.9l-1.95,3.39zM528.44,15.78h3.9l-1.95,3.39zM529.67,14.77h3.9l-1.95,3.39zM530.91,16.41h3.9l-1.95,3.39zM532.14,15.75h3.9l-1.95,3.39zM533.37,14.8h3.9l-1.95,3.39zM534.6,14.54h3.9l-1.95,3.39zM535.83,16.49h3.9l-1.95,3.39zM537.07,15.51h3.9l-1.95,3.39zM538.3,15.02h3.9l-1.95,3.39zM539.53,15.58h3.9l-1.95,3.39zM540.76,14.28h3.9l-1.95,3.39zM541.99,15.92h3.9l-1.95,3.39zM543.23,15.01h3.9l-1.95,3.39zM544.46,15.83h3.9l-1.95,3.39zM545.69,14.39h3.9l-1.95,3.39zM546.92,17.54h3.9l-1.95,3.39zM548.15,22.95h3.9l-1.95,3.39zM549.39,17.24h3.9l-1.95,3.39zM550.62,16.17h3.9l-1.95,3.39zM551.85,20.38h3.9l-1.95,3.39zM553.08,21.83h3.9l-1.95,3.39zM554.31,22.09h3.9l-1.95,3.39zM555.55,19.68h3.9l-1.95,3.39zM556.78,19.91h3.9l-1.95,3.39zM558.01,22.43h3.9l-1.95,3.39zM559.24,18.49h3.9l-1.95,3.39zM560.47,19.89h3.9l-1.95,3.39zM561.71,19.89h3.9l-1.95,3.39zM562.94,20.06h3.9l-1.95,3.39zM564.17,20.5h3.9l-1.95,3.39zM571.56,7.12h3.9l-1.95,3.39zM566.63,18.78h3.9l-1.95,3.39zM567.87,21.81h3.9l-1.95,3.39zM569.1,23.19h3.9l-1.95,3.39zM570.33,24.47h3.9l-1.95,3.39zM571.56,21.66h3.9l-1.95,3.39zM572.79,26.31h3.9l-1.95,3.39zM574.03,24.19h3.9l-1.95,3.39zM575.26,24.96h3.9l-1.95,3.39zM576.49,24.75h3.9l-1.95,3.39zM577.72,25.92h3.9l-1.95,3.39zM572.42,18.87h3.9l-1.95,3.39zM577.72,25.79h3.9l-1.95,3.39zM581.05,30.36h3.9l-1.95,3.39zM582.77,40.68h3.9l-1.95,3.39zM584.13,51.25h3.9l-1.95,3.39zM586.84,54.65h3.9l-1.95,3.39zM589.06,46.82h3.9l-1.95,3.39zM585.11,53.47h3.9l-1.95,3.39z" fill="#178c8c"/>
<path d="M491.98,25.26h2.9v2.9h-2.9zM493.21,18.47h2.9v2.9h-2.9zM494.45,16.25h2.9v2.9h-2.9zM495.68,13.24h2.9v2.9h-2.9zM496.91,12.95h2.9v2.9h-2.9zM498.14,14.05h2.9v2.9h-2.9zM499.37,13.63h2.9v2.9h-2.9zM500.61,13.9h2.9v2.9h-2.9zM501.84,12.83h2.9v2.9h-2.9zM503.07,13.2h2.9v2.9h-2.9zM504.3,13.63h2.9v2.9h-2.9zM505.53,13.69h2.9v2.9h-2.9zM506.77,13.24h2.9v2.9h-2.9zM508,13.77h2.9v2.9h-2.9zM509.23,13.87h2.9v2.9h-2.9zM510.46,13.21h2.9v2.9h-2.9zM511.69,12.29h2.9v2.9h-2.9zM512.93,13.51h2.9v2.9h-2.9zM514.16,13.64h2.9v2.9h-2.9zM515.39,13.91h2.9v2.9h-2.9zM516.62,13.97h2.9v2.9h-2.9zM517.85,13.11h2.9v2.9h-2.9zM519.09,12.95h2.9v2.9h-2.9zM520.32,13.32h2.9v2.9h-2.9zM521.55,13.16h2.9v2.9h-2.9zM522.78,13.24h2.9v2.9h-2.9zM524.01,13.22h2.9v2.9h-2.9zM525.25,13.97h2.9v2.9h-2.9zM526.48,13.47h2.9v2.9h-2.9zM527.71,13.19h2.9v2.9h-2.9zM528.94,13.59h2.9v2.9h-2.9zM530.17,13.44h2.9v2.9h-2.9zM531.41,13.58h2.9v2.9h-2.9zM532.64,13.34h2.9v2.9h-2.9zM533.87,12.79h2.9v2.9h-2.9zM535.1,13.35h2.9v2.9h-2.9zM536.33,13.22h2.9v2.9h-2.9zM537.57,12.77h2.9v2.9h-2.9zM538.8,12.83h2.9v2.9h-2.9zM540.03,12.34h2.9v2.9h-2.9zM541.26,14.06h2.9v2.9h-2.9zM542.49,12.7h2.9v2.9h-2.9zM543.73,13.29h2.9v2.9h-2.9zM544.96,13h2.9v2.9h-2.9zM546.19,12.67h2.9v2.9h-2.9zM547.42,12.54h2.9v2.9h-2.9zM548.65,12.55h2.9v2.9h-2.9zM549.89,12.94h2.9v2.9h-2.9zM551.12,12.26h2.9v2.9h-2.9zM552.35,13.11h2.9v2.9h-2.9zM553.58,13.03h2.9v2.9h-2.9zM554.81,12.59h2.9v2.9h-2.9zM556.05,13.2h2.9v2.9h-2.9zM557.28,11.94h2.9v2.9h-2.9zM558.51,12.45h2.9v2.9h-2.9zM559.74,11.91h2.9v2.9h-2.9zM560.97,12.9h2.9v2.9h-2.9zM562.21,13.05h2.9v2.9h-2.9zM563.44,12.79h2.9v2.9h-2.9zM564.67,12.37h2.9v2.9h-2.9zM565.9,13.24h2.9v2.9h-2.9zM567.13,12.6h2.9v2.9h-2.9zM568.37,12.86h2.9v2.9h-2.9zM569.6,11.8h2.9v2.9h-2.9zM570.83,13.29h2.9v2.9h-2.9zM572.06,12.17h2.9v2.9h-2.9zM573.29,13.27h2.9v2.9h-2.9zM574.53,13.48h2.9v2.9h-2.9zM575.76,13.32h2.9v2.9h-2.9zM576.99,13.63h2.9v2.9h-2.9zM578.22,12.76h2.9v2.9h-2.9zM579.45,12.18h2.9v2.9h-2.9zM580.69,12.75h2.9v2.9h-2.9zM581.92,12.44h2.9v2.9h-2.9zM583.15,11.79h2.9v2.9h-2.9zM584.38,12.68h2.9v2.9h-2.9zM585.61,12.73h2.9v2.9h-2.9zM586.85,13.03h2.9v2.9h-2.9zM588.08,13.9h2.9v2.9h-2.9zM589.31,12.36h2.9v2.9h-2.9zM590.54,14h2.9v2.9h-2.9zM591.77,12.43h2.9v2.9h-2.9zM593.01,12.86h2.9v2.9h-2.9zM594.24,12.12h2.9v2.9h-2.9zM595.47,12.9h2.9v2.9h-2.9zM596.7,13.39h2.9v2.9h-2.9zM597.93,12.62h2.9v2.9h-2.9zM599.17,13.22h2.9v2.9h-2.9zM600.4,12.97h2.9v2.9h-2.9zM601.63,12.83h2.9v2.9h-2.9zM602.86,12.94h2.9v2.9h-2.9zM604.09,12.98h2.9v2.9h-2.9zM605.33,13.4h2.9v2.9h-2.9zM606.56,12.98h2.9v2.9h-2.9zM607.79,14.25h2.9v2.9h-2.9zM609.02,12.96h2.9v2.9h-2.9zM610.25,13.63h2.9v2.9h-2.9zM611.49,12.12h2.9v2.9h-2.9zM612.72,12.02h2.9v2.9h-2.9zM613.95,14.13h2.9v2.9h-2.9zM615.18,12.76h2.9v2.9h-2.9zM616.41,12.94h2.9v2.9h-2.9zM617.65,13.54h2.9v2.9h-2.9zM618.88,12.51h2.9v2.9h-2.9zM620.11,13.15h2.9v2.9h-2.9zM621.34,14.01h2.9v2.9h-2.9zM622.57,13.03h2.9v2.9h-2.9zM623.81,12.95h2.9v2.9h-2.9zM625.04,12.78h2.9v2.9h-2.9zM626.27,13.66h2.9v2.9h-2.9zM627.5,12.45h2.9v2.9h-2.9zM628.73,12.37h2.9v2.9h-2.9zM629.97,13.6h2.9v2.9h-2.9zM631.2,13.28h2.9v2.9h-2.9zM632.43,12.9h2.9v2.9h-2.9zM633.66,13.22h2.9v2.9h-2.9zM634.89,11.71h2.9v2.9h-2.9zM636.13,12.72h2.9v2.9h-2.9zM637.36,13.51h2.9v2.9h-2.9zM638.59,13.13h2.9v2.9h-2.9zM639.82,12.27h2.9v2.9h-2.9zM641.05,9.5h2.9v2.9h-2.9zM642.29,12.41h2.9v2.9h-2.9zM643.52,12.05h2.9v2.9h-2.9zM644.75,11.6h2.9v2.9h-2.9zM645.98,12.25h2.9v2.9h-2.9zM647.21,9.52h2.9v2.9h-2.9zM648.45,12.82h2.9v2.9h-2.9zM649.68,11.33h2.9v2.9h-2.9zM650.91,12.01h2.9v2.9h-2.9zM652.14,11.47h2.9v2.9h-2.9zM653.37,13.58h2.9v2.9h-2.9zM654.61,10.12h2.9v2.9h-2.9zM655.84,12.34h2.9v2.9h-2.9zM657.07,12.16h2.9v2.9h-2.9zM658.3,13.3h2.9v2.9h-2.9zM659.53,13.06h2.9v2.9h-2.9zM660.77,11.54h2.9v2.9h-2.9zM662,11.04h2.9v2.9h-2.9zM663.23,11.31h2.9v2.9h-2.9zM664.46,10.78h2.9v2.9h-2.9zM665.69,11.36h2.9v2.9h-2.9zM666.93,12.17h2.9v2.9h-2.9zM668.16,11.22h2.9v2.9h-2.9zM669.39,11.5h2.9v2.9h-2.9zM670.62,12.32h2.9v2.9h-2.9zM671.85,11.35h2.9v2.9h-2.9zM673.09,10.69h2.9v2.9h-2.9zM674.32,11.92h2.9v2.9h-2.9zM675.55,12.62h2.9v2.9h-2.9z" fill="#3cc3e3"/>
<path d="M491.48,21.61h3.9l-1.95,-3.39zM492.71,17.7h3.9l-1.95,-3.39zM493.95,15.28h3.9l-1.95,-3.39zM495.18,14.74h3.9l-1.95,-3.39zM496.41,15.7h3.9l-1.95,-3.39zM497.64,15.65h3.9l-1.95,-3.39zM498.87,15.67h3.9l-1.95,-3.39zM500.11,15.05h3.9l-1.95,-3.39zM501.34,16.45h3.9l-1.95,-3.39zM502.57,15.44h3.9l-1.95,-3.39zM503.8,15.06h3.9l-1.95,-3.39zM505.03,15.98h3.9l-1.95,-3.39zM506.27,14.93h3.9l-1.95,-3.39zM507.5,15.36h3.9l-1.95,-3.39zM508.73,15.86h3.9l-1.95,-3.39zM509.96,15.51h3.9l-1.95,-3.39zM511.19,16.31h3.9l-1.95,-3.39zM512.43,15.87h3.9l-1.95,-3.39zM513.66,14.77h3.9l-1.95,-3.39zM514.89,16.02h3.9l-1.95,-3.39zM516.12,14.76h3.9l-1.95,-3.39zM517.35,15.64h3.9l-1.95,-3.39zM518.59,15.15h3.9l-1.95,-3.39zM519.82,15.59h3.9l-1.95,-3.39zM521.05,16.63h3.9l-1.95,-3.39zM522.28,15.87h3.9l-1.95,-3.39zM523.51,15.52h3.9l-1.95,-3.39zM524.75,16.13h3.9l-1.95,-3.39zM525.98,16.22h3.9l-1.95,-3.39zM527.21,15.44h3.9l-1.95,-3.39zM528.44,15.9h3.9l-1.95,-3.39zM529.67,16.38h3.9l-1.95,-3.39zM530.91,15.92h3.9l-1.95,-3.39zM532.14,15.21h3.9l-1.95,-3.39zM533.37,15.82h3.9l-1.95,-3.39zM534.6,15.18h3.9l-1.95,-3.39zM535.83,14.91h3.9l-1.95,-3.39zM537.07,15.59h3.9l-1.95,-3.39zM538.3,16.12h3.9l-1.95,-3.39zM539.53,16.2h3.9l-1.95,-3.39zM540.76,15.62h3.9l-1.95,-3.39zM541.99,15.2h3.9l-1.95,-3.39zM543.23,15.48h3.9l-1.95,-3.39zM544.46,15.36h3.9l-1.95,-3.39zM545.69,15.81h3.9l-1.95,-3.39zM546.92,15.47h3.9l-1.95,-3.39zM548.15,15.82h3.9l-1.95,-3.39zM549.39,15.76h3.9l-1.95,-3.39zM550.62,16.2h3.9l-1.95,-3.39zM551.85,16.33h3.9l-1.95,-3.39zM553.08,15.83h3.9l-1.95,-3.39zM554.31,16.11h3.9l-1.95,-3.39zM555.55,16.05h3.9l-1.95,-3.39zM556.78,15.3h3.9l-1.95,-3.39zM558.01,15.66h3.9l-1.95,-3.39zM559.24,14.28h3.9l-1.95,-3.39zM560.47,15.18h3.9l-1.95,-3.39zM561.71,15.9h3.9l-1.95,-3.39zM562.94,15.25h3.9l-1.95,-3.39zM564.17,15.44h3.9l-1.95,-3.39zM565.4,15.92h3.9l-1.95,-3.39zM566.63,15.1h3.9l-1.95,-3.39zM567.87,15.96h3.9l-1.95,-3.39zM569.1,17h3.9l-1.95,-3.39zM570.33,15.24h3.9l-1.95,-3.39zM571.56,15.89h3.9l-1.95,-3.39zM572.79,14.93h3.9l-1.95,-3.39zM574.03,15.9h3.9l-1.95,-3.39zM575.26,16.15h3.9l-1.95,-3.39zM576.49,14.9h3.9l-1.95,-3.39zM577.72,16.1h3.9l-1.95,-3.39zM578.95,15.51h3.9l-1.95,-3.39zM580.19,14.94h3.9l-1.95,-3.39zM581.42,15.56h3.9l-1.95,-3.39zM582.65,15.64h3.9l-1.95,-3.39zM583.88,15.56h3.9l-1.95,-3.39zM585.11,15.22h3.9l-1.95,-3.39zM586.35,15.98h3.9l-1.95,-3.39zM587.58,15.33h3.9l-1.95,-3.39zM588.81,15.34h3.9l-1.95,-3.39zM590.04,14.54h3.9l-1.95,-3.39zM591.27,15.76h3.9l-1.95,-3.39zM592.51,16.03h3.9l-1.95,-3.39zM593.74,15.27h3.9l-1.95,-3.39zM594.97,15.79h3.9l-1.95,-3.39zM596.2,15.48h3.9l-1.95,-3.39zM597.43,15.55h3.9l-1.95,-3.39zM598.67,15.07h3.9l-1.95,-3.39zM599.9,15.91h3.9l-1.95,-3.39zM601.13,15.65h3.9l-1.95,-3.39zM602.36,16.77h3.9l-1.95,-3.39zM603.59,16.01h3.9l-1.95,-3.39zM604.83,14.91h3.9l-1.95,-3.39zM606.06,15.92h3.9l-1.95,-3.39zM607.29,15.93h3.9l-1.95,-3.39zM608.52,16.16h3.9l-1.95,-3.39zM609.75,15.34h3.9l-1.95,-3.39zM610.99,15.53h3.9l-1.95,-3.39zM612.22,16.15h3.9l-1.95,-3.39zM613.45,15.3h3.9l-1.95,-3.39zM614.68,15.49h3.9l-1.95,-3.39zM615.91,15.26h3.9l-1.95,-3.39zM617.15,15.9h3.9l-1.95,-3.39zM618.38,14.81h3.9l-1.95,-3.39zM619.61,15.42h3.9l-1.95,-3.39zM620.84,15.66h3.9l-1.95,-3.39zM622.07,15.84h3.9l-1.95,-3.39zM623.31,15.72h3.9l-1.95,-3.39zM624.54,15.21h3.9l-1.95,-3.39zM625.77,15.73h3.9l-1.95,-3.39zM627,15.11h3.9l-1.95,-3.39zM628.23,15.34h3.9l-1.95,-3.39zM629.47,14.99h3.9l-1.95,-3.39zM630.7,15.24h3.9l-1.95,-3.39zM631.93,15.64h3.9l-1.95,-3.39zM633.16,16.48h3.9l-1.95,-3.39zM634.39,15.47h3.9l-1.95,-3.39zM635.63,15.25h3.9l-1.95,-3.39zM637.47,17.04h3.9l-1.95,-3.39zM638.09,19h3.9l-1.95,-3.39zM639.94,21.87h3.9l-1.95,-3.39zM641.79,25.53h3.9l-1.95,-3.39zM643.63,29.45h3.9l-1.95,-3.39zM644.25,30.75h3.9l-1.95,-3.39zM647.33,37.93h3.9l-1.95,-3.39zM649.18,41.85h3.9l-1.95,-3.39zM651.64,46.42h3.9l-1.95,-3.39zM653.49,50.34h3.9l-1.95,-3.39zM655.34,52.95h3.9l-1.95,-3.39zM654.85,67.31h3.9l-1.95,-3.39zM658.66,41.85h3.9l-1.95,-3.39zM659.28,51.64h3.9l-1.95,-3.39zM651.03,48.38h3.9l-1.95,-3.39zM656.57,57.52h3.9l-1.95,-3.39z" fill="#1c1ca8"/>
<path d="M491.73,23.57a1.7,1.7 0 1,0 3.4,0a1.7,1.7 0 1,0 -3.4,0zM492.96,17.31a1.7,1.7 0 1,0 3.4,0a1.7,1.7 0 1,0 -3.4,0zM494.2,14.47a1.7,1.7 0 1,0 3.4,0a1.7,1.7 0 1,0 -3.4,0zM495.43,14.24a1.7,1.7 0 1,0 3.4,0a1.7,1.7 0 1,0 -3.4,0zM496.66,14.84a1.7,1.7 0 1,0 3.4,0a1.7,1.7 0 1,0 -3.4,0zM497.89,14.79a1.7,1.7 0 1,0 3.4,0a1.7,1.7 0 1,0 -3.4,0zM499.12,15.12a1.7,1.7 0 1,0 3.4,0a1.7,1.7 0 1,0 -3.4,0zM500.36,13.76a1.7,1.7 0 1,0 3.4,0a1.7,1.7 0 1,0 -3.4,0zM501.59,14.47a1.7,1.7 0 1,0 3.4,0a1.7,1.7 0 1,0 -3.4,0zM502.82,14.85a1.7,1.7 0 1,0 3.4,0a1.7,1.7 0 1,0 -3.4,0zM504.05,15.35a1.7,1.7 0 1,0 3.4,0a1.7,1.7 0 1,0 -3.4,0zM505.28,14.65a1.7,1.7 0 1,0 3.4,0a1.7,1.7 0 1,0 -3.4,0zM506.52,13.72a1.7,1.7 0 1,0 3.4,0a1.7,1.7 0 1,0 -3.4,0zM507.75,14.29a1.7,1.7 0 1,0 3.4,0a1.7,1.7 0 1,0 -3.4,0zM508.98,14.99a1.7,1.7 0 1,0 3.4,0a1.7,1.7 0 1,0 -3.4,0zM510.21,13.72a1.7,1.7 0 1,0 3.4,0a1.7,1.7 0 1,0 -3.4,0zM511.44,13.72a1.7,1.7 0 1,0 3.4,0a1.7,1.7 0 1,0 -3.4,0zM512.68,13.99a1.7,1.7 0 1,0 3.4,0a1.7,1.7 0 1,0 -3.4,0zM513.91,14.1a1.7,1.7 0 1,0 3.4,0a1.7,1.7 0 1,0 -3.4,0zM515.14,13.88a1.7,1.7 0 1,0 3.4,0a1.7,1.7 0 1,0 -3.4,0zM516.37,14.24a1.7,1.7 0 1,0 3.4,0a1.7,1.7 0 1,0 -3.4,0zM517.6,14.11a1.7,1.7 0 1,0 3.4,0a1.7,1.7 0 1,0 -3.4,0zM518.84,15.02a1.7,1.7 0 1,0 3.4,0a1.7,1.7 0 1,0 -3.4,0zM520.07,13.68a1.7,1.7 0 1,0 3.4,0a1.7,1.7 0 1,0 -3.4,0zM521.3,14.43a1.7,1.7 0 1,0 3.4,0a1.7,1.7 0 1,0 -3.4,0zM522.53,13.37a1.7,1.7 0 1,0 3.4,0a1.7,1.7 0 1,0 -3.4,0zM523.76,15.76a1.7,1.7 0 1,0 3.4,0a1.7,1.7 0 1,0 -3.4,0zM525,14.15a1.7,1.7 0 1,0 3.4,0a1.7,1.7 0 1,0 -3.4,0zM526.23,13.99a1.7,1.7 0 1,0 3.4,0a1.7,1.7 0 1,0 -3.4,0zM527.46,14.77a1.7,1.7 0 1,0 3.4,0a1.7,1.7 0 1,0 -3.4,0zM528.69,14.3a1.7,1.7 0 1,0 3.4,0a1.7,1.7 0 1,0 -3.4,0zM529.92,14.12a1.7,1.7 0 1,0 3.4,0a1.7,1.7 0 1,0 -3.4,0zM531.16,14.22a1.7,1.7 0 1,0 3.4,0a1.7,1.7 0 1,0 -3.4,0zM532.39,14.88a1.7,1.7 0 1,0 3.4,0a1.7,1.7 0 1,0 -3.4,0zM533.62,14.65a1.7,1.7 0 1,0 3.4,0a1.7,1.7 0 1,0 -3.4,0zM534.85,13.96a1.7,1.7 0 1,0 3.4,0a1.7,1.7 0 1,0 -3.4,0zM536.08,13.81a1.7,1.7 0 1,0 3.4,0a1.7,1.7 0 1,0 -3.4,0zM537.32,14.51a1.7,1.7 0 1,0 3.4,0a1.7,1.7 0 1,0 -3.4,0zM538.55,14.52a1.7,1.7 0 1,0 3.4,0a1.7,1.7 0 1,0 -3.4,0zM539.78,14.45a1.7,1.7 0 1,0 3.4,0a1.7,1.7 0 1,0 -3.4,0zM541.01,13.95a1.7,1.7 0 1,0 3.4,0a1.7,1.7 0 1,0 -3.4,0zM542.24,15.18a1.7,1.7 0 1,0 3.4,0a1.7,1.7 0 1,0 -3.4,0zM543.48,15.34a1.7,1.7 0 1,0 3.4,0a1.7,1.7 0 1,0 -3.4,0zM544.71,14.49a1.7,1.7 0 1,0 3.4,0a1.7,1.7 0 1,0 -3.4,0zM545.94,15.21a1.7,1.7 0 1,0 3.4,0a1.7,1.7 0 1,0 -3.4,0zM547.17,14.91a1.7,1.7 0 1,0 3.4,0a1.7,1.7 0 1,0 -3.4,0zM548.4,14.51a1.7,1.7 0 1,0 3.4,0a1.7,1.7 0 1,0 -3.4,0zM549.64,14.28a1.7,1.7 0 1,0 3.4,0a1.7,1.7 0 1,0 -3.4,0zM550.87,15.19a1.7,1.7 0 1,0 3.4,0a1.7,1.7 0 1,0 -3.4,0zM552.1,14.09a1.7,1.7 0 1,0 3.4,0a1.7,1.7 0 1,0 -3.4,0zM553.33,15.61a1.7,1.7 0 1,0 3.4,0a1.7,1.7 0 1,0 -3.4,0zM554.56,14.24a1.7,1.7 0 1,0 3.4,0a1.7,1.7 0 1,0 -3.4,0zM555.8,15.49a1.7,1.7 0 1,0 3.4,0a1.7,1.7 0 1,0 -3.4,0zM557.03,15.31a1.7,1.7 0 1,0 3.4,0a1.7,1.7 0 1,0 -3.4,0zM558.26,14.19a1.7,1.7 0 1,0 3.4,0a1.7,1.7 0 1,0 -3.4,0zM559.49,14.8a1.7,1.7 0 1,0 3.4,0a1.7,1.7 0 1,0 -3.4,0zM560.72,15.03a1.7,1.7 0 1,0 3.4,0a1.7,1.7 0 1,0 -3.4,0zM561.96,14.83a1.7,1.7 0 1,0 3.4,0a1.7,1.7 0 1,0 -3.4,0zM563.19,14.29a1.7,1.7 0 1,0 3.4,0a1.7,1.7 0 1,0 -3.4,0zM564.42,14.6a1.7,1.7 0 1,0 3.4,0a1.7,1.7 0 1,0 -3.4,0zM565.65,14.58a1.7,1.7 0 1,0 3.4,0a1.7,1.7 0 1,0 -3.4,0zM566.88,13.94a1.7,1.7 0 1,0 3.4,0a1.7,1.7 0 1,0 -3.4,0zM568.12,14.98a1.7,1.7 0 1,0 3.4,0a1.7,1.7 0 1,0 -3.4,0zM569.35,14.84a1.7,1.7 0 1,0 3.4,0a1.7,1.7 0 1,0 -3.4,0zM570.58,14.87a1.7,1.7 0 1,0 3.4,0a1.7,1.7 0 1,0 -3.4,0zM571.81,13.88a1.7,1.7 0 1,0 3.4,0a1.7,1.7 0 1,0 -3.4,0zM573.04,13.98a1.7,1.7 0 1,0 3.4,0a1.7,1.7 0 1,0 -3.4,0zM574.28,13.81a1.7,1.7 0 1,0 3.4,0a1.7,1.7 0 1,0 -3.4,0zM575.51,14.58a1.7,1.7 0 1,0 3.4,0a1.7,1.7 0 1,0 -3.4,0zM576.74,14.66a1.7,1.7 0 1,0 3.4,0a1.7,1.7 0 1,0 -3.4,0zM577.97,14.06a1.7,1.7 0 1,0 3.4,0a1.7,1.7 0 1,0 -3.4,0zM579.2,14.8a1.7,1.7 0 1,0 3.4,0a1.7,1.7 0 1,0 -3.4,0zM580.44,14.08a1.7,1.7 0 1,0 3.4,0a1.7,1.7 0 1,0 -3.4,0zM581.67,14.14a1.7,1.7 0 1,0 3.4,0a1.7,1.7 0 1,0 -3.4,0zM582.9,14.97a1.7,1.7 0 1,0 3.4,0a1.7,1.7 0 1,0 -3.4,0zM584.13,14.61a1.7,1.7 0 1,0 3.4,0a1.7,1.7 0 1,0 -3.4,0zM585.36,14.63a1.7,1.7 0 1,0 3.4,0a1.7,1.7 0 1,0 -3.4,0zM586.6,13.55a1.7,1.7 0 1,0 3.4,0a1.7,1.7 0 1,0 -3.4,0zM587.83,13.04a1.7,1.7 0 1,0 3.4,0a1.7,1.7 0 1,0 -3.4,0zM589.06,14.62a1.7,1.7 0 1,0 3.4,0a1.7,1.7 0 1,0 -3.4,0zM590.29,14.56a1.7,1.7 0 1,0 3.4,0a1.7,1.7 0 1,0 -3.4,0zM591.52,15.9a1.7,1.7 0 1,0 3.4,0a1.7,1.7 0 1,0 -3.4,0zM592.76,14.44a1.7,1.7 0 1,0 3.4,0a1.7,1.7 0 1,0 -3.4,0zM593.99,14.57a1.7,1.7 0 1,0 3.4,0a1.7,1.7 0 1,0 -3.4,0zM595.22,15.19a1.7,1.7 0 1,0 3.4,0a1.7,1.7 0 1,0 -3.4,0zM596.45,14.1a1.7,1.7 0 1,0 3.4,0a1.7,1.7 0 1,0 -3.4,0zM597.68,15.48a1.7,1.7 0 1,0 3.4,0a1.7,1.7 0 1,0 -3.4,0zM598.92,14.69a1.7,1.7 0 1,0 3.4,0a1.7,1.7 0 1,0 -3.4,0zM600.15,14.48a1.7,1.7 0 1,0 3.4,0a1.7,1.7 0 1,0 -3.4,0zM601.38,15.3a1.7,1.7 0 1,0 3.4,0a1.7,1.7 0 1,0 -3.4,0zM602.61,14.06a1.7,1.7 0 1,0 3.4,0a1.7,1.7 0 1,0 -3.4,0zM603.84,13.94a1.7,1.7 0 1,0 3.4,0a1.7,1.7 0 1,0 -3.4,0zM605.08,15.38a1.7,1.7 0 1,0 3.4,0a1.7,1.7 0 1,0 -3.4,0zM606.31,15.39a1.7,1.7 0 1,0 3.4,0a1.7,1.7 0 1,0 -3.4,0zM607.54,14.21a1.7,1.7 0 1,0 3.4,0a1.7,1.7 0 1,0 -3.4,0zM608.77,14.58a1.7,1.7 0 1,0 3.4,0a1.7,1.7 0 1,0 -3.4,0zM610,15.28a1.7,1.7 0 1,0 3.4,0a1.7,1.7 0 1,0 -3.4,0zM611.24,14.74a1.7,1.7 0 1,0 3.4,0a1.7,1.7 0 1,0 -3.4,0zM612.47,14.63a1.7,1.7 0 1,0 3.4,0a1.7,1.7 0 1,0 -3.4,0zM613.7,14.65a1.7,1.7 0 1,0 3.4,0a1.7,1.7 0 1,0 -3.4,0zM614.93,14.08a1.7,1.7 0 1,0 3.4,0a1.7,1.7 0 1,0 -3.4,0zM616.16,14.34a1.7,1.7 0 1,0 3.4,0a1.7,1.7 0 1,0 -3.4,0zM617.4,13.52a1.7,1.7 0 1,0 3.4,0a1.7,1.7 0 1,0 -3.4,0zM618.63,13.76a1.7,1.7 0 1,0 3.4,0a1.7,1.7 0 1,0 -3.4,0zM619.86,14.17a1.7,1.7 0 1,0 3.4,0a1.7,1.7 0 1,0 -3.4,0zM621.09,13.93a1.7,1.7 0 1,0 3.4,0a1.7,1.7 0 1,0 -3.4,0zM622.32,13.79a1.7,1.7 0 1,0 3.4,0a1.7,1.7 0 1,0 -3.4,0zM623.56,14.15a1.7,1.7 0 1,0 3.4,0a1.7,1.7 0 1,0 -3.4,0zM624.79,15.28a1.7,1.7 0 1,0 3.4,0a1.7,1.7 0 1,0 -3.4,0zM626.02,14.06a1.7,1.7 0 1,0 3.4,0a1.7,1.7 0 1,0 -3.4,0zM627.25,14.52a1.7,1.7 0 1,0 3.4,0a1.7,1.7 0 1,0 -3.4,0zM628.48,13.61a1.7,1.7 0 1,0 3.4,0a1.7,1.7 0 1,0 -3.4,0zM629.72,14.51a1.7,1.7 0 1,0 3.4,0a1.7,1.7 0 1,0 -3.4,0zM630.95,14.25a1.7,1.7 0 1,0 3.4,0a1.7,1.7 0 1,0 -3.4,0zM632.18,14.96a1.7,1.7 0 1,0 3.4,0a1.7,1.7 0 1,0 -3.4,0zM633.41,13.37a1.7,1.7 0 1,0 3.4,0a1.7,1.7 0 1,0 -3.4,0zM634.64,15.14a1.7,1.7 0 1,0 3.4,0a1.7,1.7 0 1,0 -3.4,0zM635.88,15.66a1.7,1.7 0 1,0 3.4,0a1.7,1.7 0 1,0 -3.4,0zM637.11,14.98a1.7,1.7 0 1,0 3.4,0a1.7,1.7 0 1,0 -3.4,0zM638.34,15.86a1.7,1.7 0 1,0 3.4,0a1.7,1.7 0 1,0 -3.4,0zM639.57,15.16a1.7,1.7 0 1,0 3.4,0a1.7,1.7 0 1,0 -3.4,0zM640.8,15.36a1.7,1.7 0 1,0 3.4,0a1.7,1.7 0 1,0 -3.4,0zM642.04,15.03a1.7,1.7 0 1,0 3.4,0a1.7,1.7 0 1,0 -3.4,0zM643.27,13.09a1.7,1.7 0 1,0 3.4,0a1.7,1.7 0 1,0 -3.4,0zM644.5,15.82a1.7,1.7 0 1,0 3.4,0a1.7,1.7 0 1,0 -3.4,0zM645.73,15.3a1.7,1.7 0 1,0 3.4,0a1.7,1.7 0 1,0 -3.4,0zM646.96,15.58a1.7,1.7 0 1,0 3.4,0a1.7,1.7 0 1,0 -3.4,0zM648.2,14.56a1.7,1.7 0 1,0 3.4,0a1.7,1.7 0 1,0 -3.4,0zM649.43,16.74a1.7,1.7 0 1,0 3.4,0a1.7,1.7 0 1,0 -3.4,0zM650.66,16.16a1.7,1.7 0 1,0 3.4,0a1.7,1.7 0 1,0 -3.4,0zM651.89,15.39a1.7,1.7 0 1,0 3.4,0a1.7,1.7 0 1,0 -3.4,0zM653.12,14.71a1.7,1.7 0 1,0 3.4,0a1.7,1.7 0 1,0 -3.4,0zM654.36,15.4a1.7,1.7 0 1,0 3.4,0a1.7,1.7 0 1,0 -3.4,0zM655.59,15.94a1.7,1.7 0 1,0 3.4,0a1.7,1.7 0 1,0 -3.4,0zM656.82,16.37a1.7,1.7 0 1,0 3.4,0a1.7,1.7 0 1,0 -3.4,0zM658.05,14.75a1.7,1.7 0 1,0 3.4,0a1.7,1.7 0 1,0 -3.4,0zM659.28,13.65a1.7,1.7 0 1,0 3.4,0a1.7,1.7 0 1,0 -3.4,0zM660.52,14.97a1.7,1.7 0 1,0 3.4,0a1.7,1.7 0 1,0 -3.4,0zM661.75,15.13a1.7,1.7 0 1,0 3.4,0a1.7,1.7 0 1,0 -3.4,0zM662.98,14.83a1.7,1.7 0 1,0 3.4,0a1.7,1.7 0 1,0 -3.4,0zM664.21,16.45a1.7,1.7 0 1,0 3.4,0a1.7,1.7 0 1,0 -3.4,0zM665.44,15.71a1.7,1.7 0 1,0 3.4,0a1.7,1.7 0 1,0 -3.4,0zM666.68,15.66a1.7,1.7 0 1,0 3.4,0a1.7,1.7 0 1,0 -3.4,0zM667.91,15a1.7,1.7 0 1,0 3.4,0a1.7,1.7 0 1,0 -3.4,0zM669.14,15.38a1.7,1.7 0 1,0 3.4,0a1.7,1.7 0 1,0 -3.4,0zM670.37,16.78a1.7,1.7 0 1,0 3.4,0a1.7,1.7 0 1,0 -3.4,0zM671.6,14.02a1.7,1.7 0 1,0 3.4,0a1.7,1.7 0 1,0 -3.4,0zM672.84,13.36a1.7,1.7 0 1,0 3.4,0a1.7,1.7 0 1,0 -3.4,0zM674.07,15.66a1.7,1.7 0 1,0 3.4,0a1.7,1.7 0 1,0 -3.4,0zM675.3,14.88a1.7,1.7 0 1,0 3.4,0a1.7,1.7 0 1,0 -3.4,0z" fill="#f59494"/>
</g>
<rect x="492.2" y="4.4" width="184.8" height="137.6" fill="none" stroke="#333" stroke-width="0.9"/>
<line x1="492.2" y1="142" x2="492.2" y2="145" stroke="#333" stroke-width="0.8" />
<text transform="translate(492.2,154) scale(1,1.1)" font-size="8.9" text-anchor="middle" fill="#111" >0</text>
<line x1="529.16" y1="142" x2="529.16" y2="145" stroke="#333" stroke-width="0.8" />
<text transform="translate(529.16,154) scale(1,1.1)" font-size="8.9" text-anchor="middle" fill="#111" >30</text>
<line x1="566.12" y1="142" x2="566.12" y2="145" stroke="#333" stroke-width="0.8" />
<text transform="translate(566.12,154) scale(1,1.1)" font-size="8.9" text-anchor="middle" fill="#111" >60</text>
<line x1="603.08" y1="142" x2="603.08" y2="145" stroke="#333" stroke-width="0.8" />
<text transform="translate(603.08,154) scale(1,1.1)" font-size="8.9" text-anchor="middle" fill="#111" >90</text>
<line x1="640.04" y1="142" x2="640.04" y2="145" stroke="#333" stroke-width="0.8" />
<text transform="translate(640.04,154) scale(1,1.1)" font-size="8.9" text-anchor="middle" fill="#111" >120</text>
<line x1="677" y1="142" x2="677" y2="145" stroke="#333" stroke-width="0.8" />
<text transform="translate(677,154) scale(1,1.1)" font-size="8.9" text-anchor="middle" fill="#111" >150</text>
<line x1="510.68" y1="142" x2="510.68" y2="143.7" stroke="#333" stroke-width="0.8" />
<line x1="547.64" y1="142" x2="547.64" y2="143.7" stroke="#333" stroke-width="0.8" />
<line x1="584.6" y1="142" x2="584.6" y2="143.7" stroke="#333" stroke-width="0.8" />
<line x1="621.56" y1="142" x2="621.56" y2="143.7" stroke="#333" stroke-width="0.8" />
<line x1="658.52" y1="142" x2="658.52" y2="143.7" stroke="#333" stroke-width="0.8" />
<line x1="489.2" y1="142" x2="492.2" y2="142" stroke="#333" stroke-width="0.8" />
<text transform="translate(487.9,145.03) scale(1,1.1)" font-size="8.9" text-anchor="end" fill="#111" >0</text>
<line x1="489.2" y1="115.89" x2="492.2" y2="115.89" stroke="#333" stroke-width="0.8" />
<text transform="translate(487.9,118.91) scale(1,1.1)" font-size="8.9" text-anchor="end" fill="#111" >20</text>
<line x1="489.2" y1="89.77" x2="492.2" y2="89.77" stroke="#333" stroke-width="0.8" />
<text transform="translate(487.9,92.8) scale(1,1.1)" font-size="8.9" text-anchor="end" fill="#111" >40</text>
<line x1="489.2" y1="63.66" x2="492.2" y2="63.66" stroke="#333" stroke-width="0.8" />
<text transform="translate(487.9,66.68) scale(1,1.1)" font-size="8.9" text-anchor="end" fill="#111" >60</text>
<line x1="489.2" y1="37.54" x2="492.2" y2="37.54" stroke="#333" stroke-width="0.8" />
<text transform="translate(487.9,40.57) scale(1,1.1)" font-size="8.9" text-anchor="end" fill="#111" >80</text>
<line x1="489.2" y1="11.43" x2="492.2" y2="11.43" stroke="#333" stroke-width="0.8" />
<text transform="translate(487.9,14.46) scale(1,1.1)" font-size="8.9" text-anchor="end" fill="#111" >100</text>
<line x1="490.5" y1="128.94" x2="492.2" y2="128.94" stroke="#333" stroke-width="0.8" />
<line x1="490.5" y1="102.83" x2="492.2" y2="102.83" stroke="#333" stroke-width="0.8" />
<line x1="490.5" y1="76.71" x2="492.2" y2="76.71" stroke="#333" stroke-width="0.8" />
<line x1="490.5" y1="50.6" x2="492.2" y2="50.6" stroke="#333" stroke-width="0.8" />
<line x1="490.5" y1="24.49" x2="492.2" y2="24.49" stroke="#333" stroke-width="0.8" />
<text transform="translate(584.6,163.6) scale(1,1.1)" font-size="9.3" text-anchor="middle" fill="#222" >Cycle Number</text>
<text transform="translate(469.3,74.9) rotate(-90) scale(1,1.0)" font-size="9.6" text-anchor="middle" fill="#222">Coulombic Efficiency (%)</text>
<text transform="translate(464.6,11.7) scale(1,1.0)" font-size="14.5" text-anchor="start" fill="#000" font-weight="bold" >c</text>
<text transform="translate(505.6,132.2) scale(1,1.1)" font-size="8.1" text-anchor="start" fill="#000" font-weight="bold" >Li||Cu, 0.5 mA cm<tspan dy="-3.08" font-size="5.02">-2</tspan><tspan dy="3.08">, 1 mAh cm<tspan dy="-3.08" font-size="5.02">-2</tspan><tspan dy="3.08"></tspan></tspan></text>
<path d="M510.5,61h3v3h-3z" fill="#3cc3e3"/>
<text transform="translate(521.7,65.2) scale(1,1.1)" font-size="7.8" text-anchor="start" fill="#1a1a1a" >LiFSI-TEP</text>
<path d="M510.05,70.3h3.9l-1.95,3.39z" fill="#178c8c"/>
<text transform="translate(521.7,74.7) scale(1,1.1)" font-size="7.8" text-anchor="start" fill="#1a1a1a" >LiFSI-TEP/C1-2Cl</text>
<path d="M510.05,83.2h3.9l-1.95,-3.39z" fill="#1c1ca8"/>
<text transform="translate(521.7,84.2) scale(1,1.1)" font-size="7.8" text-anchor="start" fill="#1a1a1a" >LiFSI-TEP/C2-2Cl</text>
<path d="M510.2,91a1.8,1.8 0 1,0 3.6,0a1.8,1.8 0 1,0 -3.6,0z" fill="#f59494"/>
<text transform="translate(521.7,93.7) scale(1,1.1)" font-size="7.8" text-anchor="start" fill="#1a1a1a" >LiFSI-TEP/C3-2Cl</text>
<path d="M512,98.5l2,2l-2,2l-2,-2z" fill="#111"/>
<text transform="translate(521.7,103.2) scale(1,1.1)" font-size="7.8" text-anchor="start" fill="#1a1a1a" >LiFSI-TEP/C4-2Cl</text>
<path d="M510.43,110l3.13,-1.8v3.6z" fill="#a8a8a8"/>
<text transform="translate(521.7,112.7) scale(1,1.1)" font-size="7.8" text-anchor="start" fill="#1a1a1a" >LiFSI-TEP/C5-2Cl</text>
<clipPath id="cd"><rect x="31" y="172" width="192" height="143"/></clipPath>
<g clip-path="url(#cd)">
<path d="M33.1,220.25h3v3h-3zM36.79,221.61h3v3h-3zM40.49,217.51h3v3h-3zM44.18,220.25h3v3h-3zM47.88,216.14h3v3h-3zM51.57,214.77h3v3h-3zM55.26,214.09h3v3h-3zM58.96,216.14h3v3h-3zM62.65,210.66h3v3h-3zM66.35,209.29h3v3h-3zM70.04,207.92h3v3h-3zM73.73,212.72h3v3h-3zM77.43,207.92h3v3h-3zM81.12,207.92h3v3h-3zM84.82,206.56h3v3h-3zM88.51,205.19h3v3h-3zM92.2,209.29h3v3h-3zM95.9,206.56h3v3h-3zM99.59,203.82h3v3h-3zM103.29,206.56h3v3h-3zM106.98,205.87h3v3h-3zM110.67,205.19h3v3h-3zM114.37,201.08h3v3h-3zM118.06,205.19h3v3h-3zM121.76,196.97h3v3h-3zM125.45,196.97h3v3h-3zM129.14,202.45h3v3h-3zM132.84,199.71h3v3h-3zM136.53,198.34h3v3h-3zM140.23,202.45h3v3h-3zM143.92,203.82h3v3h-3zM147.61,201.08h3v3h-3zM151.31,202.45h3v3h-3zM155,201.08h3v3h-3zM158.7,195.6h3v3h-3zM162.39,199.71h3v3h-3zM166.08,196.97h3v3h-3zM169.78,198.34h3v3h-3zM173.47,201.08h3v3h-3zM177.17,196.97h3v3h-3zM180.86,214.77h3v3h-3zM184.55,196.97h3v3h-3zM188.25,202.45h3v3h-3zM191.94,199.71h3v3h-3zM195.64,209.29h3v3h-3zM199.33,196.97h3v3h-3zM203.02,202.45h3v3h-3zM206.72,201.08h3v3h-3zM210.41,195.6h3v3h-3zM214.11,201.08h3v3h-3zM217.8,205.19h3v3h-3z" fill="#3cc3e3"/>
<path d="M32.55,239.13h4.1l-2.05,3.57zM36.24,236.39h4.1l-2.05,3.57zM39.94,236.39h4.1l-2.05,3.57zM43.63,232.28h4.1l-2.05,3.57zM47.33,232.28h4.1l-2.05,3.57zM51.02,233.65h4.1l-2.05,3.57zM54.71,232.28h4.1l-2.05,3.57zM58.41,233.65h4.1l-2.05,3.57zM62.1,236.39h4.1l-2.05,3.57zM65.8,228.18h4.1l-2.05,3.57zM69.49,236.39h4.1l-2.05,3.57zM73.18,236.39h4.1l-2.05,3.57zM76.88,229.55h4.1l-2.05,3.57zM80.57,229.55h4.1l-2.05,3.57zM84.27,229.55h4.1l-2.05,3.57zM87.96,232.28h4.1l-2.05,3.57zM91.65,232.28h4.1l-2.05,3.57zM95.35,243.24h4.1l-2.05,3.57zM99.04,229.55h4.1l-2.05,3.57zM102.74,218.59h4.1l-2.05,3.57zM106.43,236.39h4.1l-2.05,3.57zM110.12,239.13h4.1l-2.05,3.57zM113.82,228.18h4.1l-2.05,3.57zM117.51,233.65h4.1l-2.05,3.57zM121.21,226.81h4.1l-2.05,3.57zM124.9,254.19h4.1l-2.05,3.57zM128.59,258.29h4.1l-2.05,3.57zM132.29,236.39h4.1l-2.05,3.57zM135.98,228.18h4.1l-2.05,3.57zM139.68,258.29h4.1l-2.05,3.57zM143.37,241.87h4.1l-2.05,3.57zM147.06,225.44h4.1l-2.05,3.57zM150.76,251.45h4.1l-2.05,3.57zM154.45,273.35h4.1l-2.05,3.57zM158.15,229.55h4.1l-2.05,3.57zM161.84,258.29h4.1l-2.05,3.57zM165.53,287.04h4.1l-2.05,3.57zM169.23,293.89h4.1l-2.05,3.57zM172.92,247.34h4.1l-2.05,3.57zM176.62,306.21h4.1l-2.05,3.57zM180.31,248.71h4.1l-2.05,3.57zM184,255.56h4.1l-2.05,3.57zM187.7,261.03h4.1l-2.05,3.57zM191.39,256.93h4.1l-2.05,3.57zM195.09,276.09h4.1l-2.05,3.57zM198.78,299.36h4.1l-2.05,3.57zM202.47,302.1h4.1l-2.05,3.57zM206.17,277.46h4.1l-2.05,3.57zM209.86,285.67h4.1l-2.05,3.57zM213.56,273.35h4.1l-2.05,3.57z" fill="#178c8c"/>
<path d="M32.55,210.52h4.1l-2.05,-3.57zM36.24,210.2h4.1l-2.05,-3.57zM39.94,210.82h4.1l-2.05,-3.57zM43.63,211.5h4.1l-2.05,-3.57zM47.33,211.02h4.1l-2.05,-3.57zM51.02,211.61h4.1l-2.05,-3.57zM54.71,210.46h4.1l-2.05,-3.57zM58.41,209.06h4.1l-2.05,-3.57zM62.1,211.06h4.1l-2.05,-3.57zM65.8,211.2h4.1l-2.05,-3.57zM69.49,209.99h4.1l-2.05,-3.57zM73.18,210.13h4.1l-2.05,-3.57zM76.88,214.63h4.1l-2.05,-3.57zM80.57,211.54h4.1l-2.05,-3.57zM84.27,210.56h4.1l-2.05,-3.57zM87.96,209.76h4.1l-2.05,-3.57zM91.65,212h4.1l-2.05,-3.57zM95.35,211.03h4.1l-2.05,-3.57zM99.04,212.61h4.1l-2.05,-3.57zM102.74,211.94h4.1l-2.05,-3.57zM106.43,212.54h4.1l-2.05,-3.57zM110.12,210.78h4.1l-2.05,-3.57zM113.82,211.91h4.1l-2.05,-3.57zM117.51,210.23h4.1l-2.05,-3.57zM121.21,213.95h4.1l-2.05,-3.57zM124.9,211.89h4.1l-2.05,-3.57zM128.59,212.58h4.1l-2.05,-3.57zM132.29,218.05h4.1l-2.05,-3.57zM135.98,211.21h4.1l-2.05,-3.57zM139.68,213.95h4.1l-2.05,-3.57zM143.37,202.99h4.1l-2.05,-3.57zM147.06,209.84h4.1l-2.05,-3.57zM150.76,207.1h4.1l-2.05,-3.57zM154.45,209.84h4.1l-2.05,-3.57zM158.15,209.84h4.1l-2.05,-3.57zM161.84,220.79h4.1l-2.05,-3.57zM165.53,211.21h4.1l-2.05,-3.57zM169.23,216.68h4.1l-2.05,-3.57zM172.92,212.58h4.1l-2.05,-3.57zM176.62,201.63h4.1l-2.05,-3.57zM180.31,207.1h4.1l-2.05,-3.57zM184,211.21h4.1l-2.05,-3.57zM187.7,211.21h4.1l-2.05,-3.57zM191.39,200.26h4.1l-2.05,-3.57zM195.09,209.84h4.1l-2.05,-3.57zM198.78,208.47h4.1l-2.05,-3.57zM202.47,193.41h4.1l-2.05,-3.57zM206.17,209.84h4.1l-2.05,-3.57zM209.86,196.15h4.1l-2.05,-3.57zM213.56,205.73h4.1l-2.05,-3.57zM217.25,204.36h4.1l-2.05,-3.57z" fill="#1c1ca8"/>
<path d="M32.7,202.26a1.9,1.9 0 1,0 3.8,0a1.9,1.9 0 1,0 -3.8,0zM36.39,202.96a1.9,1.9 0 1,0 3.8,0a1.9,1.9 0 1,0 -3.8,0zM40.09,208.06a1.9,1.9 0 1,0 3.8,0a1.9,1.9 0 1,0 -3.8,0zM43.78,206.69a1.9,1.9 0 1,0 3.8,0a1.9,1.9 0 1,0 -3.8,0zM47.48,202.68a1.9,1.9 0 1,0 3.8,0a1.9,1.9 0 1,0 -3.8,0zM51.17,202.35a1.9,1.9 0 1,0 3.8,0a1.9,1.9 0 1,0 -3.8,0zM54.86,205.72a1.9,1.9 0 1,0 3.8,0a1.9,1.9 0 1,0 -3.8,0zM58.56,203.56a1.9,1.9 0 1,0 3.8,0a1.9,1.9 0 1,0 -3.8,0zM62.25,204.59a1.9,1.9 0 1,0 3.8,0a1.9,1.9 0 1,0 -3.8,0zM65.95,204.24a1.9,1.9 0 1,0 3.8,0a1.9,1.9 0 1,0 -3.8,0zM69.64,199.84a1.9,1.9 0 1,0 3.8,0a1.9,1.9 0 1,0 -3.8,0zM73.33,204.24a1.9,1.9 0 1,0 3.8,0a1.9,1.9 0 1,0 -3.8,0zM77.03,202.65a1.9,1.9 0 1,0 3.8,0a1.9,1.9 0 1,0 -3.8,0zM80.72,200.76a1.9,1.9 0 1,0 3.8,0a1.9,1.9 0 1,0 -3.8,0zM84.42,203.78a1.9,1.9 0 1,0 3.8,0a1.9,1.9 0 1,0 -3.8,0zM88.11,202.81a1.9,1.9 0 1,0 3.8,0a1.9,1.9 0 1,0 -3.8,0zM91.8,202.35a1.9,1.9 0 1,0 3.8,0a1.9,1.9 0 1,0 -3.8,0zM95.5,202.45a1.9,1.9 0 1,0 3.8,0a1.9,1.9 0 1,0 -3.8,0zM99.19,205.1a1.9,1.9 0 1,0 3.8,0a1.9,1.9 0 1,0 -3.8,0zM102.89,202.42a1.9,1.9 0 1,0 3.8,0a1.9,1.9 0 1,0 -3.8,0zM106.58,199.79a1.9,1.9 0 1,0 3.8,0a1.9,1.9 0 1,0 -3.8,0zM110.27,201.21a1.9,1.9 0 1,0 3.8,0a1.9,1.9 0 1,0 -3.8,0zM113.97,200.82a1.9,1.9 0 1,0 3.8,0a1.9,1.9 0 1,0 -3.8,0zM117.66,202.33a1.9,1.9 0 1,0 3.8,0a1.9,1.9 0 1,0 -3.8,0zM121.36,203.9a1.9,1.9 0 1,0 3.8,0a1.9,1.9 0 1,0 -3.8,0zM125.05,198.47a1.9,1.9 0 1,0 3.8,0a1.9,1.9 0 1,0 -3.8,0zM128.74,201.01a1.9,1.9 0 1,0 3.8,0a1.9,1.9 0 1,0 -3.8,0zM132.44,205.04a1.9,1.9 0 1,0 3.8,0a1.9,1.9 0 1,0 -3.8,0zM136.13,202.43a1.9,1.9 0 1,0 3.8,0a1.9,1.9 0 1,0 -3.8,0zM139.83,201.4a1.9,1.9 0 1,0 3.8,0a1.9,1.9 0 1,0 -3.8,0zM143.52,202.97a1.9,1.9 0 1,0 3.8,0a1.9,1.9 0 1,0 -3.8,0zM147.21,201.18a1.9,1.9 0 1,0 3.8,0a1.9,1.9 0 1,0 -3.8,0zM150.91,188.89a1.9,1.9 0 1,0 3.8,0a1.9,1.9 0 1,0 -3.8,0zM154.6,201.21a1.9,1.9 0 1,0 3.8,0a1.9,1.9 0 1,0 -3.8,0zM158.3,199.63a1.9,1.9 0 1,0 3.8,0a1.9,1.9 0 1,0 -3.8,0zM161.99,203.97a1.9,1.9 0 1,0 3.8,0a1.9,1.9 0 1,0 -3.8,0zM165.68,202.16a1.9,1.9 0 1,0 3.8,0a1.9,1.9 0 1,0 -3.8,0zM169.38,203.53a1.9,1.9 0 1,0 3.8,0a1.9,1.9 0 1,0 -3.8,0zM173.07,202.32a1.9,1.9 0 1,0 3.8,0a1.9,1.9 0 1,0 -3.8,0zM176.77,209.42a1.9,1.9 0 1,0 3.8,0a1.9,1.9 0 1,0 -3.8,0zM180.46,203.77a1.9,1.9 0 1,0 3.8,0a1.9,1.9 0 1,0 -3.8,0zM184.15,202.98a1.9,1.9 0 1,0 3.8,0a1.9,1.9 0 1,0 -3.8,0zM187.85,200.73a1.9,1.9 0 1,0 3.8,0a1.9,1.9 0 1,0 -3.8,0zM191.54,200.23a1.9,1.9 0 1,0 3.8,0a1.9,1.9 0 1,0 -3.8,0zM195.24,219.01a1.9,1.9 0 1,0 3.8,0a1.9,1.9 0 1,0 -3.8,0zM198.93,204.21a1.9,1.9 0 1,0 3.8,0a1.9,1.9 0 1,0 -3.8,0zM202.62,203.95a1.9,1.9 0 1,0 3.8,0a1.9,1.9 0 1,0 -3.8,0zM206.32,206.67a1.9,1.9 0 1,0 3.8,0a1.9,1.9 0 1,0 -3.8,0zM210.01,203.53a1.9,1.9 0 1,0 3.8,0a1.9,1.9 0 1,0 -3.8,0zM213.71,191.63a1.9,1.9 0 1,0 3.8,0a1.9,1.9 0 1,0 -3.8,0zM217.4,210.79a1.9,1.9 0 1,0 3.8,0a1.9,1.9 0 1,0 -3.8,0z" fill="#f59494"/>
<line x1="34.6" y1="202.7" x2="219.3" y2="204.2" stroke="#f22a2a" stroke-width="1.4" />
</g>
<rect x="34.6" y="175.2" width="184.7" height="136.9" fill="none" stroke="#333" stroke-width="0.9"/>
<line x1="34.6" y1="312.1" x2="34.6" y2="315.1" stroke="#333" stroke-width="0.8" />
<text transform="translate(34.6,323.7) scale(1,1.1)" font-size="8.9" text-anchor="middle" fill="#111" >10</text>
<line x1="71.54" y1="312.1" x2="71.54" y2="315.1" stroke="#333" stroke-width="0.8" />
<text transform="translate(71.54,323.7) scale(1,1.1)" font-size="8.9" text-anchor="middle" fill="#111" >20</text>
<line x1="108.48" y1="312.1" x2="108.48" y2="315.1" stroke="#333" stroke-width="0.8" />
<text transform="translate(108.48,323.7) scale(1,1.1)" font-size="8.9" text-anchor="middle" fill="#111" >30</text>
<line x1="145.42" y1="312.1" x2="145.42" y2="315.1" stroke="#333" stroke-width="0.8" />
<text transform="translate(145.42,323.7) scale(1,1.1)" font-size="8.9" text-anchor="middle" fill="#111" >40</text>
<line x1="182.36" y1="312.1" x2="182.36" y2="315.1" stroke="#333" stroke-width="0.8" />
<text transform="translate(182.36,323.7) scale(1,1.1)" font-size="8.9" text-anchor="middle" fill="#111" >50</text>
<line x1="219.3" y1="312.1" x2="219.3" y2="315.1" stroke="#333" stroke-width="0.8" />
<text transform="translate(219.3,323.7) scale(1,1.1)" font-size="8.9" text-anchor="middle" fill="#111" >60</text>
<line x1="53.07" y1="312.1" x2="53.07" y2="313.8" stroke="#333" stroke-width="0.8" />
<line x1="90.01" y1="312.1" x2="90.01" y2="313.8" stroke="#333" stroke-width="0.8" />
<line x1="126.95" y1="312.1" x2="126.95" y2="313.8" stroke="#333" stroke-width="0.8" />
<line x1="163.89" y1="312.1" x2="163.89" y2="313.8" stroke="#333" stroke-width="0.8" />
<line x1="200.83" y1="312.1" x2="200.83" y2="313.8" stroke="#333" stroke-width="0.8" />
<line x1="31.6" y1="312.1" x2="34.6" y2="312.1" stroke="#333" stroke-width="0.8" />
<text transform="translate(30.3,315.13) scale(1,1.1)" font-size="8.9" text-anchor="end" fill="#111" >90</text>
<line x1="31.6" y1="284.72" x2="34.6" y2="284.72" stroke="#333" stroke-width="0.8" />
<text transform="translate(30.3,287.75) scale(1,1.1)" font-size="8.9" text-anchor="end" fill="#111" >92</text>
<line x1="31.6" y1="257.34" x2="34.6" y2="257.34" stroke="#333" stroke-width="0.8" />
<text transform="translate(30.3,260.37) scale(1,1.1)" font-size="8.9" text-anchor="end" fill="#111" >94</text>
<line x1="31.6" y1="229.96" x2="34.6" y2="229.96" stroke="#333" stroke-width="0.8" />
<text transform="translate(30.3,232.99) scale(1,1.1)" font-size="8.9" text-anchor="end" fill="#111" >96</text>
<line x1="31.6" y1="202.58" x2="34.6" y2="202.58" stroke="#333" stroke-width="0.8" />
<text transform="translate(30.3,205.61) scale(1,1.1)" font-size="8.9" text-anchor="end" fill="#111" >98</text>
<line x1="31.6" y1="175.2" x2="34.6" y2="175.2" stroke="#333" stroke-width="0.8" />
<text transform="translate(30.3,178.23) scale(1,1.1)" font-size="8.9" text-anchor="end" fill="#111" >100</text>
<line x1="32.9" y1="298.41" x2="34.6" y2="298.41" stroke="#333" stroke-width="0.8" />
<line x1="32.9" y1="271.03" x2="34.6" y2="271.03" stroke="#333" stroke-width="0.8" />
<line x1="32.9" y1="243.65" x2="34.6" y2="243.65" stroke="#333" stroke-width="0.8" />
<line x1="32.9" y1="216.27" x2="34.6" y2="216.27" stroke="#333" stroke-width="0.8" />
<line x1="32.9" y1="188.89" x2="34.6" y2="188.89" stroke="#333" stroke-width="0.8" />
<text transform="translate(11.6,250) rotate(-90) scale(1,1.0)" font-size="10.5" text-anchor="middle" fill="#222">Coulombic Efficiency (%)</text>
<text transform="translate(2.2,172.6) scale(1,1.0)" font-size="14.5" text-anchor="start" fill="#000" font-weight="bold" >d</text>
<text transform="translate(38.9,193) scale(1,1.1)" font-size="8.2" text-anchor="start" fill="#222" >Average CE &gt; 98%</text>
<text transform="translate(38.9,309.6) scale(1,1.1)" font-size="8.1" text-anchor="start" fill="#000" font-weight="bold" >Li||Cu, 0.5 mA cm<tspan dy="-3.08" font-size="5.02">-2</tspan><tspan dy="3.08">, 1 mAh cm<tspan dy="-3.08" font-size="5.02">-2</tspan><tspan dy="3.08"></tspan></tspan></text>
<path d="M40,265.6h3v3h-3z" fill="#3cc3e3"/>
<text transform="translate(50.4,269.8) scale(1,1.1)" font-size="7.8" text-anchor="start" fill="#1a1a1a" >LiFSI-TEP</text>
<path d="M39.5,274.71h4l-2,3.48z" fill="#178c8c"/>
<text transform="translate(50.4,279.15) scale(1,1.1)" font-size="7.8" text-anchor="start" fill="#1a1a1a" >LiFSI-TEP/C1-2Cl</text>
<path d="M39.5,287.54h4l-2,-3.48z" fill="#1c1ca8"/>
<text transform="translate(50.4,288.5) scale(1,1.1)" font-size="7.8" text-anchor="start" fill="#1a1a1a" >LiFSI-TEP/C2-2Cl</text>
<path d="M39.65,295.15a1.85,1.85 0 1,0 3.7,0a1.85,1.85 0 1,0 -3.7,0z" fill="#f59494"/>
<text transform="translate(50.4,297.85) scale(1,1.1)" font-size="7.8" text-anchor="start" fill="#1a1a1a" >LiFSI-TEP/C3-2Cl</text>
<defs><pattern id="pcy" patternUnits="userSpaceOnUse" width="1.3" height="10"><rect width="1.3" height="10" fill="#7fd8ec"/><rect width="0.65" height="10" fill="#1fb6d8"/></pattern><pattern id="pte" patternUnits="userSpaceOnUse" x="0" y="0" width="2" height="10"><rect width="2" height="10" fill="#a6d2d2"/><rect width="1.2" height="10" fill="#168b8b"/></pattern><pattern id="pbl" patternUnits="userSpaceOnUse" width="1.3" height="10"><rect width="1.3" height="10" fill="#2a2ab0"/><rect width="0.8" height="10" fill="#000090"/></pattern></defs>
<clipPath id="ce"><rect x="273.1" y="175.1" width="401.9" height="139.9"/></clipPath>
<g clip-path="url(#ce)">
<polygon points="275.11,223.43 279.91,223.87 284.71,224.3 289.51,224.74 294.31,225.17 299.11,225.61 303.91,226.04 308.71,226.48 313.52,226.91 318.32,227.34 318.32,235.22 313.52,235.62 308.71,236.02 303.91,236.42 299.11,236.83 294.31,237.23 289.51,237.63 284.71,238.03 279.91,238.43 275.11,238.83" fill="url(#pcy)"/>
<polygon points="318.32,207.5 331.68,207.5 345.04,207.5 358.41,207.5 358.51,217.3 363.87,217.29 369.24,217.27 374.6,217.23 379.97,217.18 385.33,217.11 390.7,217.03 396.06,216.93 401.42,216.83 406.79,216.71 412.15,216.58 417.52,216.44 422.88,216.29 428.25,216.14 433.61,215.97 438.98,215.8 444.34,215.61 449.71,215.43 455.07,215.23 460.44,215.03 465.8,214.82 471.16,214.61 476.53,214.39 481.89,214.1 487.26,213.73 492.62,213.31 497.99,212.83 503.35,212.33 508.72,211.79 514.08,211.25 519.45,210.71 524.81,210.18 530.18,209.67 535.54,209.2 540.9,208.78 546.27,208.4 551.63,208.02 557,207.66 562.36,207.3 567.73,206.93 573.09,206.55 578.46,206.16 583.82,205.78 589.19,205.4 594.55,205.01 599.92,204.63 605.28,204.24 610.64,203.85 616.01,203.47 621.37,203.08 626.74,202.68 632.1,202.29 637.47,201.9 642.83,201.5 648.2,201.11 653.56,200.71 658.93,200.31 664.29,199.91 669.66,199.5 675.02,199.1 675.02,264.2 669.66,263.82 664.29,263.44 658.93,263.05 653.56,262.66 648.2,262.26 642.83,261.85 637.47,261.43 632.1,261.02 626.74,260.59 621.37,260.16 616.01,259.73 610.64,259.29 605.28,258.85 599.92,258.4 594.55,257.95 589.19,257.49 583.82,257.03 578.46,256.57 573.09,256.11 567.73,255.64 562.36,255.14 557,254.62 551.63,254.09 546.27,253.59 540.9,253.12 535.54,252.7 530.18,252.29 524.81,251.88 519.45,251.47 514.08,251.08 508.72,250.7 503.35,250.34 497.99,250 492.62,249.68 487.26,249.39 481.89,249.13 476.53,248.89 471.16,248.69 465.8,248.5 460.44,248.3 455.07,248.11 449.71,247.92 444.34,247.74 438.98,247.56 433.61,247.38 428.25,247.22 422.88,247.06 417.52,246.9 412.15,246.76 406.79,246.63 401.42,246.5 396.06,246.39 390.7,246.29 385.33,246.21 379.97,246.13 374.6,246.08 369.24,246.03 363.87,246.01 358.51,246 358.41,246.7 345.04,246.7 331.68,246.7 318.32,246.7" fill="url(#pcy)"/>
<line x1="359.01" y1="209.6" x2="359.01" y2="220.8" stroke="#3cc3e3" stroke-width="0.7" />
<line x1="360.62" y1="209.6" x2="360.62" y2="220.8" stroke="#3cc3e3" stroke-width="0.7" />
<line x1="362.23" y1="209.6" x2="362.23" y2="220.8" stroke="#3cc3e3" stroke-width="0.7" />
<line x1="363.83" y1="209.6" x2="363.83" y2="220.8" stroke="#3cc3e3" stroke-width="0.7" />
<line x1="365.44" y1="209.6" x2="365.44" y2="220.8" stroke="#3cc3e3" stroke-width="0.7" />
<line x1="367.05" y1="209.6" x2="367.05" y2="220.8" stroke="#3cc3e3" stroke-width="0.7" />
<line x1="368.66" y1="209.6" x2="368.66" y2="220.8" stroke="#3cc3e3" stroke-width="0.7" />
<line x1="370.26" y1="209.6" x2="370.26" y2="220.8" stroke="#3cc3e3" stroke-width="0.7" />
<line x1="371.87" y1="209.6" x2="371.87" y2="220.8" stroke="#3cc3e3" stroke-width="0.7" />
<polygon points="318.82,222.62 319.5,222.24 320.18,221.86 320.86,221.48 321.54,221.1 322.22,220.72 322.91,220.34 323.59,219.96 324.27,219.58 324.95,219.2 325.63,218.82 326.31,218.44 326.99,218.06 327.67,217.68 328.36,217.3 329.04,216.63 329.72,215.95 330.4,215.27 331.08,214.6 331.76,213.92 332.44,213.24 333.12,212.56 333.81,211.88 334.49,211.21 335.17,210.53 335.85,209.67 336.53,208.72 337.21,207.77 337.89,206.82 338.57,205.87 339.26,204.93 339.94,203.98 340.62,203.03 341.3,202.08 341.98,200.23 342.66,198.17 343.34,196.12 344.02,194.06 344.7,191.42 345.39,187.86 346.07,184.3 346.75,180.22 347.43,175.48 348.11,170.73 348.79,165.99 349.47,161.3 350.15,161.3 350.84,161.3 351.52,161.3 352.2,161.3 352.88,161.3 353.56,161.3 354.24,161.3 354.92,161.3 355.6,161.3 356.29,161.3 356.97,161.3 357.65,161.3 358.33,161.3 359.01,161.3 359.01,325.8 358.33,325.8 357.65,325.8 356.97,325.8 356.29,325.8 355.6,325.8 354.92,325.8 354.24,325.8 353.56,325.8 352.88,325.8 352.2,325.8 351.52,325.8 350.84,325.8 350.15,318.45 349.47,308.74 348.79,299.03 348.11,292.68 347.43,289.51 346.75,286.35 346.07,283.19 345.39,280.11 344.7,277.98 344.02,275.84 343.34,273.71 342.66,271.57 341.98,269.44 341.3,267.49 340.62,266.39 339.94,265.28 339.26,264.17 338.57,263.06 337.89,261.96 337.21,260.85 336.53,259.74 335.85,258.63 335.17,257.67 334.49,256.99 333.81,256.32 333.12,255.64 332.44,254.96 331.76,254.28 331.08,253.6 330.4,252.93 329.72,252.25 329.04,251.57 328.36,250.89 327.67,250.28 326.99,249.66 326.31,249.04 325.63,248.42 324.95,247.81 324.27,247.19 323.59,246.57 322.91,245.96 322.22,245.34 321.54,244.72 320.86,244.11 320.18,243.49 319.5,242.87 318.82,242.26" fill="url(#pte)"/>
<polyline points="318.82,223.81 319.57,242.74 320.33,221.92 321.08,239.64 321.83,223.91 322.59,245.63 323.34,224.3 324.09,241.7 324.85,220.37 325.6,247.48 326.35,218.92 327.11,244.94 327.86,222.08 328.62,248.14 329.37,221.48 330.12,249.38 330.88,215.69 331.63,248.22 332.38,214.62 333.14,254.3 333.89,218.86 334.64,248.41 335.4,216.74 336.15,259.04 336.9,208.77 337.66,250.72 338.41,209 339.17,263.49 339.92,214.54 340.67,255.45 341.43,209.59 342.18,266.58 342.93,197.56 343.69,265.27 344.44,199.06 345.19,270.04 345.95,203.4 346.7,280.11 347.46,187.21 348.21,274.76 348.96,164.8 349.72,310.02 350.47,176.15 351.22,292.29 351.98,189.19 352.73,325.77 353.48,172.71 354.24,292.94 354.99,161.73 355.74,322.02 356.5,179.58 357.25,299.43 358.01,188.34 358.76,313.4" fill="none" stroke="#148888" stroke-width="0.9" stroke-linejoin="round" />
<polygon points="318.32,224.65 321.44,224.65 324.57,224.65 327.7,224.64 330.83,224.64 333.96,224.63 337.09,224.62 340.22,224.61 343.35,224.6 346.48,224.59 349.6,224.58 352.73,224.56 355.86,224.55 358.99,224.53 362.12,224.51 365.25,224.49 368.38,224.47 371.51,224.45 374.64,224.43 377.76,224.41 380.89,224.38 384.02,224.36 387.15,224.33 390.28,224.3 393.41,224.27 396.54,224.24 399.67,224.21 402.8,224.18 405.92,224.15 409.05,224.12 412.18,224.08 415.31,224.05 418.44,224.01 421.57,223.98 424.7,223.94 427.83,223.89 430.96,223.83 434.08,223.77 437.21,223.69 440.34,223.6 443.47,223.51 446.6,223.41 449.73,223.3 452.86,223.19 455.99,223.07 459.12,222.96 462.24,222.84 465.37,222.72 468.5,222.59 471.63,222.48 474.76,222.36 477.89,222.24 481.02,222.13 484.15,222.03 487.28,221.93 490.4,221.83 493.53,221.73 496.66,221.62 499.79,221.51 502.92,221.39 506.05,221.25 509.18,221.09 512.31,220.92 515.43,220.72 518.56,220.46 521.69,220.14 524.82,219.76 527.95,219.32 531.08,218.83 534.21,218.29 537.34,217.7 540.47,217.06 543.59,216.21 546.72,215.17 549.85,214 552.98,212.77 556.11,211.54 559.24,210.38 562.37,209.29 565.5,208.2 565.5,253.7 562.37,252.53 559.24,251.54 556.11,250.74 552.98,250.03 549.85,249.39 546.72,248.78 543.59,248.2 540.47,247.61 537.34,246.99 534.21,246.35 531.08,245.69 527.95,245.03 524.82,244.42 521.69,243.85 518.56,243.36 515.43,242.97 512.31,242.67 509.18,242.41 506.05,242.17 502.92,241.95 499.79,241.74 496.66,241.55 493.53,241.38 490.4,241.23 487.28,241.08 484.15,240.95 481.02,240.82 477.89,240.71 474.76,240.6 471.63,240.49 468.5,240.39 465.37,240.29 462.24,240.19 459.12,240.1 455.99,240.02 452.86,239.94 449.73,239.86 446.6,239.78 443.47,239.71 440.34,239.65 437.21,239.58 434.08,239.52 430.96,239.47 427.83,239.41 424.7,239.36 421.57,239.32 418.44,239.27 415.31,239.22 412.18,239.18 409.05,239.13 405.92,239.08 402.8,239.04 399.67,239 396.54,238.95 393.41,238.91 390.28,238.87 387.15,238.82 384.02,238.78 380.89,238.74 377.76,238.71 374.64,238.67 371.51,238.63 368.38,238.6 365.25,238.56 362.12,238.53 358.99,238.5 355.86,238.48 352.73,238.45 349.6,238.42 346.48,238.4 343.35,238.38 340.22,238.36 337.09,238.35 333.96,238.33 330.83,238.32 327.7,238.31 324.57,238.31 321.44,238.3 318.32,238.3" fill="#2626a8"/>
<polygon points="318.32,225 675.02,225 675.02,237.74 318.32,237.74" fill="#f98e8e"/>
<polyline points="318.32,224.86 565.5,224.65" fill="none" stroke="#0c0c98" stroke-width="1.3" stroke-linejoin="round" />
<polyline points="318.32,237.88 565.5,238.09" fill="none" stroke="#0c0c98" stroke-width="1.5" stroke-linejoin="round" />
<path d="M319.32,227.45L319.92,235.51L320.53,227.84M320.38,225.95L320.99,233.65L321.59,226.49M323.9,227.41L324.51,235.72L325.11,227.8M325.46,226.44L326.06,235.75L326.67,226.93M331.02,227.51L331.62,234.64L332.23,227.89M333.21,226.39L333.82,236.44L334.42,226.88M334.48,228.23L335.08,233.69L335.68,228.54M337.28,228.68L337.89,235.76L338.49,228.94M340.13,228.5L340.74,234.61L341.34,228.78M344.49,229.14L345.09,233.96L345.69,229.36M347.5,226.78L348.1,233.59L348.7,227.23M350.75,228.09L351.36,233.71L351.96,228.41M352.11,226.26L352.71,235.03L353.31,226.77M354.77,227.11L355.37,236.54L355.97,227.53M357.21,229.14L357.81,234.43L358.42,229.35M359.68,226.21L360.28,234.16L360.88,226.72M361.32,225.78L361.92,236.69L362.52,226.33M363,228.1L363.61,236.01L364.21,228.42M364.09,227.79L364.69,234.26L365.3,228.14M374.16,227.01L374.76,233.9L375.37,227.44M379.93,228.63L380.54,236.9L381.14,228.9M381.23,227.95L381.83,233.61L382.43,228.28M383.98,228.64L384.58,235.14L385.19,228.91M385.14,228.39L385.75,233.54L386.35,228.68M386.38,226.97L386.98,234.54L387.59,227.4M388.68,228.74L389.28,234.5L389.88,229M391.72,227.23L392.32,236.77L392.92,227.64M398.06,227.57L398.66,233.57L399.27,227.95M406.35,227.83L406.95,235.14L407.55,228.18M407.92,227.09L408.53,234.24L409.13,227.51M410.18,226.63L410.78,234.42L411.39,227.1M412.79,227.26L413.39,235.76L414,227.67M414.84,225.77L415.44,233.74L416.04,226.32M416.5,229.1L417.1,233.94L417.7,229.32M423.91,226.94L424.52,234.59L425.12,227.38M426.43,228.66L427.03,236.47L427.63,228.93M432.85,228.98L433.46,235.34L434.06,229.21M438.11,226.12L438.72,233.78L439.32,226.63M440.88,228.88L441.48,235.57L442.08,229.12M442.8,226.22L443.4,233.88L444,226.73M445.04,227.35L445.64,235.15L446.25,227.75M446.32,226.18L446.92,234L447.52,226.69M447.34,227.59L447.95,236.81L448.55,227.96M450.52,227.74L451.12,234.13L451.72,228.09M452.96,228.19L453.56,234.29L454.16,228.5M457.59,226.62L458.19,236.8L458.79,227.09M458.75,227.93L459.36,235.18L459.96,228.27M459.9,228.43L460.5,234.75L461.11,228.72M462.39,229.1L462.99,233.56L463.6,229.32M467.15,226.09L467.75,236.65L468.35,226.61M470.71,227.19L471.31,233.7L471.91,227.6M475.89,228.79L476.49,236.56L477.1,229.04M482.6,228.18L483.2,235.92L483.8,228.49M486.27,225.81L486.87,233.98L487.48,226.36M488.25,225.92L488.86,235.11L489.46,226.46M489.93,227.12L490.53,234.8L491.13,227.54M491.19,227.83L491.79,235.44L492.39,228.18M498.68,227.37L499.29,234.79L499.89,227.76M500.49,226.4L501.09,234.26L501.7,226.89M501.55,226.69L502.16,234.93L502.76,227.15M504.62,227.13L505.23,235.26L505.83,227.54M507.37,226.45L507.97,233.46L508.57,226.93M508.43,228.41L509.03,233.64L509.63,228.7M509.69,228.02L510.29,235.37L510.89,228.35M512.48,228.56L513.08,235.42L513.68,228.83M513.49,228.09L514.09,234.76L514.69,228.41M514.59,227.02L515.2,236.02L515.8,227.44M517.52,226.9L518.12,234.95L518.73,227.34M525.38,228.5L525.98,234.84L526.59,228.78M527.77,227.4L528.37,236.06L528.97,227.79M530.02,226.67L530.62,235.79L531.22,227.13M531.84,226.3L532.44,234.36L533.04,226.8M532.9,229.13L533.51,236.24L534.11,229.34M535.59,227.15L536.19,234.48L536.79,227.57M537.35,227.84L537.96,233.49L538.56,228.18M540.38,226.82L540.98,236.49L541.58,227.27M541.98,226.7L542.58,236.17L543.18,227.16M544.22,228.57L544.82,236.05L545.42,228.84M549.21,228.73L549.82,236.52L550.42,228.99M551.61,226.81L552.22,234.75L552.82,227.26M553.31,227.51L553.91,235.88L554.52,227.89M557.98,225.96L558.58,234.78L559.18,226.49M560.59,227.62L561.19,235.21L561.8,227.99M564.53,227L565.14,233.93L565.74,227.43" fill="none" stroke="#3434a4" stroke-width="0.6" stroke-opacity="0.85"/>
<path d="M570.15,227.36L570.75,234.53L571.36,227.76M574.48,227.44L575.08,234.7L575.69,227.82M579.24,228.31L579.84,236.74L580.44,228.61M592.76,226.83L593.37,235.06L593.97,227.28M595.59,226.34L596.19,236.85L596.79,226.83M599.72,228.4L600.32,234.67L600.93,228.69M600.96,229.14L601.56,236.67L602.16,229.35M607.23,227.33L607.83,233.74L608.44,227.72M608.81,228.12L609.41,234.54L610.02,228.44M610.97,228.06L611.57,236.31L612.18,228.38M612,229L612.6,236.43L613.21,229.23M617.21,225.98L617.81,234.25L618.41,226.51M621.86,227.53L622.47,233.56L623.07,227.91M632.43,227.34L633.04,235.48L633.64,227.74M644.37,226.07L644.98,234.93L645.58,226.59M647.14,227.01L647.74,236.36L648.34,227.44M652.53,228.84L653.13,235.33L653.73,229.09M657.08,227.63L657.68,235.08L658.28,228M662.16,227.98L662.76,236.68L663.37,228.31M663.49,225.96L664.09,234.62L664.69,226.49M666.19,226.09L666.79,234.23L667.39,226.61" fill="none" stroke="#4a9ec0" stroke-width="0.6" stroke-opacity="0.8"/>
<line x1="563.99" y1="168.3" x2="563.99" y2="252.3" stroke="#1c1ca8" stroke-width="1.2" />
<polyline points="563.99,252.3 563.49,280.3 564.09,287.3 564.79,273.3 565.09,301.3" fill="none" stroke="#1c1ca8" stroke-width="1.1" stroke-linejoin="round" />
<line x1="567.31" y1="168.3" x2="567.31" y2="322.3" stroke="#1c1ca8" stroke-width="1.2" />
<polygon points="274.61,227.87 318.82,227.87 318.82,234.52 274.61,234.52" fill="#c4c4c4"/>
<line x1="274.61" y1="231.3" x2="318.32" y2="231.3" stroke="#bdbdbd" stroke-width="0.6" />
<line x1="317.31" y1="218" x2="317.31" y2="231.3" stroke="#bcbcbc" stroke-width="1.3" />
<line x1="319.82" y1="227.8" x2="319.82" y2="239.7" stroke="#bcbcbc" stroke-width="1.3" />
<line x1="320.83" y1="210.3" x2="320.83" y2="245.3" stroke="#bcbcbc" stroke-width="1.3" />
<line x1="321.83" y1="215.9" x2="321.83" y2="252.3" stroke="#bcbcbc" stroke-width="1.3" />
<line x1="322.84" y1="208.9" x2="322.84" y2="246.7" stroke="#bcbcbc" stroke-width="1.3" />
<line x1="323.84" y1="222.9" x2="323.84" y2="245.3" stroke="#bcbcbc" stroke-width="1.3" />
<line x1="324.65" y1="213.8" x2="324.65" y2="234.8" stroke="#bcbcbc" stroke-width="1.3" />
<line x1="325.15" y1="224.3" x2="325.15" y2="318.8" stroke="#c4c4c4" stroke-width="1.0" />
<line x1="317.91" y1="171.8" x2="317.91" y2="253" stroke="#111" stroke-width="1.2" />
</g>
<rect x="273.1" y="175.1" width="401.9" height="139.9" fill="none" stroke="#333" stroke-width="0.9"/>
<line x1="273.1" y1="315" x2="273.1" y2="318" stroke="#333" stroke-width="0.8" />
<text transform="translate(273.1,327.2) scale(1,1.1)" font-size="9.4" text-anchor="middle" fill="#111" >0</text>
<line x1="373.58" y1="315" x2="373.58" y2="318" stroke="#333" stroke-width="0.8" />
<text transform="translate(373.58,327.2) scale(1,1.1)" font-size="9.4" text-anchor="middle" fill="#111" >100</text>
<line x1="474.06" y1="315" x2="474.06" y2="318" stroke="#333" stroke-width="0.8" />
<text transform="translate(474.06,327.2) scale(1,1.1)" font-size="9.4" text-anchor="middle" fill="#111" >200</text>
<line x1="574.54" y1="315" x2="574.54" y2="318" stroke="#333" stroke-width="0.8" />
<text transform="translate(574.54,327.2) scale(1,1.1)" font-size="9.4" text-anchor="middle" fill="#111" >300</text>
<line x1="675.02" y1="315" x2="675.02" y2="318" stroke="#333" stroke-width="0.8" />
<text transform="translate(675.02,327.2) scale(1,1.1)" font-size="9.4" text-anchor="middle" fill="#111" >400</text>
<line x1="323.34" y1="315" x2="323.34" y2="316.7" stroke="#333" stroke-width="0.8" />
<line x1="423.82" y1="315" x2="423.82" y2="316.7" stroke="#333" stroke-width="0.8" />
<line x1="524.3" y1="315" x2="524.3" y2="316.7" stroke="#333" stroke-width="0.8" />
<line x1="624.78" y1="315" x2="624.78" y2="316.7" stroke="#333" stroke-width="0.8" />
<line x1="270.1" y1="175.3" x2="273.1" y2="175.3" stroke="#333" stroke-width="0.8" />
<text transform="translate(268.8,178.5) scale(1,1.1)" font-size="9.4" text-anchor="end" fill="#111" >0.8</text>
<line x1="270.1" y1="203.3" x2="273.1" y2="203.3" stroke="#333" stroke-width="0.8" />
<text transform="translate(268.8,206.5) scale(1,1.1)" font-size="9.4" text-anchor="end" fill="#111" >0.4</text>
<line x1="270.1" y1="231.3" x2="273.1" y2="231.3" stroke="#333" stroke-width="0.8" />
<text transform="translate(268.8,234.5) scale(1,1.1)" font-size="9.4" text-anchor="end" fill="#111" >0.0</text>
<line x1="270.1" y1="259.3" x2="273.1" y2="259.3" stroke="#333" stroke-width="0.8" />
<text transform="translate(268.8,262.5) scale(1,1.1)" font-size="9.4" text-anchor="end" fill="#111" >−0.4</text>
<line x1="270.1" y1="287.3" x2="273.1" y2="287.3" stroke="#333" stroke-width="0.8" />
<text transform="translate(268.8,290.5) scale(1,1.1)" font-size="9.4" text-anchor="end" fill="#111" >−0.8</text>
<line x1="270.1" y1="315.3" x2="273.1" y2="315.3" stroke="#333" stroke-width="0.8" />
<text transform="translate(268.8,318.5) scale(1,1.1)" font-size="9.4" text-anchor="end" fill="#111" >−1.2</text>
<line x1="271.4" y1="189.3" x2="273.1" y2="189.3" stroke="#333" stroke-width="0.8" />
<line x1="271.4" y1="217.3" x2="273.1" y2="217.3" stroke="#333" stroke-width="0.8" />
<line x1="271.4" y1="245.3" x2="273.1" y2="245.3" stroke="#333" stroke-width="0.8" />
<line x1="271.4" y1="273.3" x2="273.1" y2="273.3" stroke="#333" stroke-width="0.8" />
<line x1="271.4" y1="301.3" x2="273.1" y2="301.3" stroke="#333" stroke-width="0.8" />
<text transform="translate(457.3,337.8) scale(1,1.1)" font-size="8.9" text-anchor="start" fill="#222" >Time (h)</text>
<text transform="translate(247.3,240) rotate(-90) scale(1,1.0)" font-size="9.7" text-anchor="middle" fill="#222">Voltage (V)</text>
<text transform="translate(235.6,172.7) scale(1,1.0)" font-size="15.5" text-anchor="start" fill="#000" font-weight="bold" >e</text>
<text transform="translate(395.8,191.5) scale(1,1.1)" font-size="9.5" text-anchor="start" fill="#000" font-weight="bold" >Li||Li, 1 mA cm<tspan dy="-3.61" font-size="5.89">-2</tspan><tspan dy="3.61">, 1 mAh cm<tspan dy="-3.61" font-size="5.89">-2</tspan><tspan dy="3.61"></tspan></tspan></text>
<line x1="406.4" y1="262.2" x2="421.5" y2="262.2" stroke="#3cc3e3" stroke-width="1.4" />
<text transform="translate(423.4,264.7) scale(1,1.1)" font-size="7.35" text-anchor="start" fill="#1a1a1a" >LiFSI-TEP</text>
<line x1="406.4" y1="271.08" x2="421.5" y2="271.08" stroke="#178c8c" stroke-width="1.4" />
<text transform="translate(423.4,273.58) scale(1,1.1)" font-size="7.35" text-anchor="start" fill="#1a1a1a" >LiFSI-TEP/C1-2Cl</text>
<line x1="406.4" y1="279.96" x2="421.5" y2="279.96" stroke="#1c1ca8" stroke-width="1.4" />
<text transform="translate(423.4,282.46) scale(1,1.1)" font-size="7.35" text-anchor="start" fill="#1a1a1a" >LiFSI-TEP/C2-2Cl</text>
<line x1="406.4" y1="288.84" x2="421.5" y2="288.84" stroke="#f59494" stroke-width="1.4" />
<text transform="translate(423.4,291.34) scale(1,1.1)" font-size="7.35" text-anchor="start" fill="#1a1a1a" >LiFSI-TEP/C3-2Cl</text>
<line x1="406.4" y1="297.72" x2="421.5" y2="297.72" stroke="#111" stroke-width="1.4" />
<text transform="translate(423.4,300.22) scale(1,1.1)" font-size="7.35" text-anchor="start" fill="#1a1a1a" >LiFSI-TEP/C4-2Cl</text>
<line x1="406.4" y1="306.6" x2="421.5" y2="306.6" stroke="#c4c4c4" stroke-width="1.4" />
<text transform="translate(423.4,309.1) scale(1,1.1)" font-size="7.35" text-anchor="start" fill="#1a1a1a" >LiFSI-TEP/C5-2Cl</text>
<defs><radialGradient id="gy" cx="0.4" cy="0.35" r="0.7"><stop offset="0" stop-color="#ffff70"/><stop offset="0.5" stop-color="#f2ec18"/><stop offset="1" stop-color="#b8b000"/></radialGradient><radialGradient id="gb" cx="0.4" cy="0.35" r="0.7"><stop offset="0" stop-color="#e4f6ff"/><stop offset="0.5" stop-color="#9fd4ef"/><stop offset="1" stop-color="#5f9fc8"/></radialGradient></defs>
<line x1="36.9" y1="358.4" x2="36.9" y2="479.1" stroke="#333" stroke-width="0.9" />
<line x1="33.9" y1="369.5" x2="36.9" y2="369.5" stroke="#333" stroke-width="0.8" />
<text transform="translate(31.8,372.1) scale(1,1.1)" font-size="8.4" text-anchor="end" fill="#111" >−6</text>
<line x1="33.9" y1="393.8" x2="36.9" y2="393.8" stroke="#333" stroke-width="0.8" />
<text transform="translate(31.8,396.4) scale(1,1.1)" font-size="8.4" text-anchor="end" fill="#111" >−8</text>
<line x1="33.9" y1="418.1" x2="36.9" y2="418.1" stroke="#333" stroke-width="0.8" />
<text transform="translate(31.8,420.7) scale(1,1.1)" font-size="8.4" text-anchor="end" fill="#111" >−10</text>
<line x1="33.9" y1="442.4" x2="36.9" y2="442.4" stroke="#333" stroke-width="0.8" />
<text transform="translate(31.8,445) scale(1,1.1)" font-size="8.4" text-anchor="end" fill="#111" >−12</text>
<line x1="33.9" y1="466.7" x2="36.9" y2="466.7" stroke="#333" stroke-width="0.8" />
<text transform="translate(31.8,469.3) scale(1,1.1)" font-size="8.4" text-anchor="end" fill="#111" >−14</text>
<line x1="35.2" y1="357.35" x2="36.9" y2="357.35" stroke="#333" stroke-width="0.8" />
<line x1="35.2" y1="381.65" x2="36.9" y2="381.65" stroke="#333" stroke-width="0.8" />
<line x1="35.2" y1="405.95" x2="36.9" y2="405.95" stroke="#333" stroke-width="0.8" />
<line x1="35.2" y1="430.25" x2="36.9" y2="430.25" stroke="#333" stroke-width="0.8" />
<line x1="35.2" y1="454.55" x2="36.9" y2="454.55" stroke="#333" stroke-width="0.8" />
<line x1="35.2" y1="478.85" x2="36.9" y2="478.85" stroke="#333" stroke-width="0.8" />
<text transform="translate(12.5,418.5) rotate(-90) scale(1,1.0)" font-size="7.6" text-anchor="middle" fill="#222" font-weight="bold">Energy Level (eV)</text>
<text transform="translate(4.6,353.3) scale(1,1.0)" font-size="15" text-anchor="start" fill="#000" font-weight="bold" >f</text>
<text transform="translate(16.9,353.2) scale(1,1.1)" font-size="8.7" text-anchor="start" fill="#f7919a" >LUMO</text>
<text transform="translate(13,487.8) scale(1,1.1)" font-size="8.5" text-anchor="start" fill="#1a1aa0" font-weight="bold" >HOMO</text>
<linearGradient id="g52" x1="0" y1="0" x2="0" y2="1"><stop offset="0" stop-color="#f5979d"/><stop offset="0.5" stop-color="#ffffff"/><stop offset="0.78" stop-color="#6c6cb8"/><stop offset="1" stop-color="#000084"/></linearGradient>
<rect x="52.1" y="379.1" width="31.1" height="72.4" fill="url(#g52)"/>
<rect x="52.1" y="379.1" width="31.1" height="1.2" fill="#f27a84"/>
<rect x="52.1" y="449.9" width="31.1" height="1.8" fill="#0000a0"/>
<text transform="translate(67.65,414.8) scale(1,1.1)" font-size="7.0" text-anchor="middle" fill="#222" >η=5.87</text>
<text transform="translate(68.9,501.2) scale(1,1.15)" font-size="6.7" text-anchor="middle" fill="#1a1a1a" font-weight="bold" >Li-(C1-2Cl)</text>
<linearGradient id="g111" x1="0" y1="0" x2="0" y2="1"><stop offset="0" stop-color="#f5979d"/><stop offset="0.5" stop-color="#ffffff"/><stop offset="0.78" stop-color="#6c6cb8"/><stop offset="1" stop-color="#000084"/></linearGradient>
<rect x="111.9" y="374" width="30.7" height="73.4" fill="url(#g111)"/>
<rect x="111.9" y="374" width="30.7" height="1.2" fill="#f27a84"/>
<rect x="111.9" y="445.8" width="30.7" height="1.8" fill="#0000a0"/>
<text transform="translate(127.25,410.9) scale(1,1.1)" font-size="7.0" text-anchor="middle" fill="#222" >η=6.01</text>
<text transform="translate(128.5,501.2) scale(1,1.15)" font-size="6.7" text-anchor="middle" fill="#1a1a1a" font-weight="bold" >Li-(C2-2Cl)</text>
<linearGradient id="g171" x1="0" y1="0" x2="0" y2="1"><stop offset="0" stop-color="#f5979d"/><stop offset="0.5" stop-color="#ffffff"/><stop offset="0.78" stop-color="#6c6cb8"/><stop offset="1" stop-color="#000084"/></linearGradient>
<rect x="171.4" y="367.8" width="30.8" height="76.4" fill="url(#g171)"/>
<rect x="171.4" y="367.8" width="30.8" height="1.2" fill="#f27a84"/>
<rect x="171.4" y="442.6" width="30.8" height="1.8" fill="#0000a0"/>
<text transform="translate(186.8,407.4) scale(1,1.1)" font-size="7.0" text-anchor="middle" fill="#222" >η=6.25</text>
<text transform="translate(188.6,501.2) scale(1,1.15)" font-size="6.7" text-anchor="middle" fill="#1a1a1a" font-weight="bold" >Li-(C3-2Cl)</text>
<linearGradient id="g230" x1="0" y1="0" x2="0" y2="1"><stop offset="0" stop-color="#f5979d"/><stop offset="0.5" stop-color="#ffffff"/><stop offset="0.78" stop-color="#6c6cb8"/><stop offset="1" stop-color="#000084"/></linearGradient>
<rect x="230.8" y="371.4" width="30.8" height="39.1" fill="url(#g230)"/>
<rect x="230.8" y="371.4" width="30.8" height="1.2" fill="#f27a84"/>
<rect x="230.8" y="408.9" width="30.8" height="1.8" fill="#0000a0"/>
<text transform="translate(246.2,392.9) scale(1,1.1)" font-size="7.0" text-anchor="middle" fill="#222" >η=3.20</text>
<text transform="translate(248.2,501.2) scale(1,1.15)" font-size="6.7" text-anchor="middle" fill="#1a1a1a" font-weight="bold" >Li-(C4-2Cl)</text>
<linearGradient id="g290" x1="0" y1="0" x2="0" y2="1"><stop offset="0" stop-color="#f5979d"/><stop offset="0.5" stop-color="#ffffff"/><stop offset="0.78" stop-color="#6c6cb8"/><stop offset="1" stop-color="#000084"/></linearGradient>
<rect x="290.3" y="370.6" width="30.9" height="35.2" fill="url(#g290)"/>
<rect x="290.3" y="370.6" width="30.9" height="1.2" fill="#f27a84"/>
<rect x="290.3" y="404.2" width="30.9" height="1.8" fill="#0000a0"/>
<text transform="translate(305.75,389) scale(1,1.1)" font-size="7.0" text-anchor="middle" fill="#222" >η=2.85</text>
<text transform="translate(308.6,501.2) scale(1,1.15)" font-size="6.7" text-anchor="middle" fill="#1a1a1a" font-weight="bold" >Li-(C5-2Cl)</text>
<linearGradient id="g350" x1="0" y1="0" x2="0" y2="1"><stop offset="0" stop-color="#f5979d"/><stop offset="0.5" stop-color="#ffffff"/><stop offset="0.78" stop-color="#6c6cb8"/><stop offset="1" stop-color="#000084"/></linearGradient>
<rect x="350.2" y="396.8" width="30.5" height="73.1" fill="url(#g350)"/>
<rect x="350.2" y="396.8" width="30.5" height="1.2" fill="#f27a84"/>
<rect x="350.2" y="468.3" width="30.5" height="1.8" fill="#0000a0"/>
<text transform="translate(365.45,434.3) scale(1,1.1)" font-size="7.0" text-anchor="middle" fill="#222" >η=5.91</text>
<text transform="translate(365.5,501.2) scale(1,1.15)" font-size="6.7" text-anchor="middle" fill="#1a1a1a" font-weight="bold" >2Li-(C4-2Cl)</text>
<linearGradient id="g409" x1="0" y1="0" x2="0" y2="1"><stop offset="0" stop-color="#f5979d"/><stop offset="0.5" stop-color="#ffffff"/><stop offset="0.78" stop-color="#6c6cb8"/><stop offset="1" stop-color="#000084"/></linearGradient>
<rect x="409.3" y="393.2" width="30.5" height="72.9" fill="url(#g409)"/>
<rect x="409.3" y="393.2" width="30.5" height="1.2" fill="#f27a84"/>
<rect x="409.3" y="464.5" width="30.5" height="1.8" fill="#0000a0"/>
<text transform="translate(424.55,430) scale(1,1.1)" font-size="7.0" text-anchor="middle" fill="#222" >η=5.90</text>
<text transform="translate(424.6,501.2) scale(1,1.15)" font-size="6.7" text-anchor="middle" fill="#1a1a1a" font-weight="bold" >2Li-(C5-2Cl)</text>
<path d="M63.5,370.5 Q69.4,353.5 75.3,370.5" fill="none" stroke="#5f94b4" stroke-width="3.2" stroke-linecap="round"/>
<path d="M63.5,370.5 Q69.4,353.5 75.3,370.5" fill="none" stroke="#9ad2ee" stroke-width="2.0" stroke-linecap="round"/>
<path d="M65.8,371.8 Q69.4,376.5 73.2,371.8" fill="none" stroke="#7fb8d8" stroke-width="1.8" stroke-linecap="round"/>
<ellipse cx="61.2" cy="363.8" rx="3" ry="3.3" fill="url(#gy)"/>
<ellipse cx="77.6" cy="363.8" rx="3" ry="3.3" fill="url(#gy)"/>
<ellipse cx="69.4" cy="367.4" rx="2.6" ry="2.7" fill="url(#gy)"/>
<circle cx="69.1" cy="358.8" r="1" fill="#b060d0"/>
<circle cx="68.2" cy="458.1" r="0.9" fill="#b060d0"/>
<ellipse cx="63" cy="464.5" rx="4.2" ry="3.8" fill="url(#gb)"/>
<ellipse cx="73.8" cy="464.5" rx="4.2" ry="3.8" fill="url(#gb)"/>
<path d="M59.5,461 Q63,458.5 66.5,461" fill="none" stroke="#e8e020" stroke-width="1.4" stroke-linecap="round"/>
<path d="M70.3,461 Q73.8,458.5 77.3,461" fill="none" stroke="#e8e020" stroke-width="1.4" stroke-linecap="round"/>
<ellipse cx="68.6" cy="470.5" rx="2.6" ry="2.6" fill="url(#gy)"/>
<path d="M117.8,362.5 C117.8,349 137.2,349 137.2,362.5 L134.2,362.5 C134.2,354.5 120.8,354.5 120.8,362.5 Z" fill="url(#gy)"/>
<ellipse cx="122.5" cy="361.6" rx="2.5" ry="2.2" fill="url(#gb)"/>
<ellipse cx="132.5" cy="361.6" rx="2.5" ry="2.2" fill="url(#gb)"/>
<path d="M120.5,367.5 C121.5,360.5 133.5,360.5 134.5,367.5 L132.5,367.5 C131.5,363.8 123.5,363.8 122.5,367.5 Z" fill="url(#gy)"/>
<ellipse cx="124" cy="367.6" rx="1.8" ry="2.6" fill="url(#gb)"/>
<ellipse cx="131" cy="367.6" rx="1.8" ry="2.6" fill="url(#gb)"/>
<ellipse cx="127.5" cy="370.2" rx="1.4" ry="1.2" fill="url(#gb)"/>
<circle cx="127.5" cy="356.2" r="0.9" fill="#b060d0"/>
<circle cx="127.5" cy="455.4" r="0.9" fill="#b060d0"/>
<ellipse cx="120.7" cy="461" rx="4.6" ry="4.3" fill="url(#gb)"/>
<ellipse cx="134.7" cy="461" rx="4.6" ry="4.3" fill="url(#gy)"/>
<ellipse cx="125.5" cy="467.3" rx="2.8" ry="2.4" fill="url(#gy)"/>
<ellipse cx="130" cy="467.3" rx="2.8" ry="2.4" fill="url(#gb)"/>
<circle cx="122.5" cy="470.5" r="1" fill="#f0f0f0"/>
<circle cx="133" cy="470.5" r="1" fill="#f0f0f0"/>
<path d="M177,353 C176,341 196,341 195,353 C193,350.5 190,348.8 186,348.8 C182,348.8 179,350.5 177,353 Z" fill="url(#gb)"/>
<ellipse cx="181.6" cy="354.6" rx="2.5" ry="1.3" fill="url(#gy)"/>
<ellipse cx="190.6" cy="354.6" rx="2.5" ry="1.3" fill="url(#gy)"/>
<ellipse cx="180.6" cy="357.8" rx="2.4" ry="1.5" fill="url(#gb)"/>
<ellipse cx="191.6" cy="357.8" rx="2.4" ry="1.5" fill="url(#gb)"/>
<ellipse cx="182" cy="361" rx="2.4" ry="1.7" fill="url(#gy)"/>
<ellipse cx="190.2" cy="361" rx="2.4" ry="1.7" fill="url(#gy)"/>
<circle cx="186.1" cy="360.6" r="1.4" fill="#f0e820"/>
<ellipse cx="186.1" cy="363.5" rx="1.5" ry="2" fill="url(#gb)"/>
<circle cx="186.6" cy="350.8" r="0.8" fill="#b060d0"/>
<circle cx="186.6" cy="450.6" r="0.9" fill="#b060d0"/>
<ellipse cx="179.7" cy="454.8" rx="4" ry="3.8" fill="url(#gy)"/>
<ellipse cx="194.1" cy="454.8" rx="4" ry="3.8" fill="url(#gb)"/>
<path d="M191,451.5 Q194,450 197,452" fill="none" stroke="#e8e020" stroke-width="1.0" stroke-linecap="round"/>
<ellipse cx="180.5" cy="461.8" rx="2.4" ry="1.6" fill="url(#gb)"/>
<ellipse cx="184.5" cy="460.8" rx="1.8" ry="1.5" fill="url(#gy)"/>
<ellipse cx="189" cy="461" rx="1.8" ry="1.5" fill="url(#gy)"/>
<ellipse cx="193.3" cy="461.8" rx="2.4" ry="1.6" fill="url(#gb)"/>
<polyline points="181.5,460.7 184.12,462.3 186.75,460.7 189.38,462.3 192,460.7" fill="none" stroke="#9a9a9a" stroke-width="1.1" stroke-linejoin="round" />
<circle cx="184.12" cy="462.3" r="0.9" fill="#d0d0d0"/>
<circle cx="186.75" cy="460.7" r="0.9" fill="#d0d0d0"/>
<circle cx="189.38" cy="462.3" r="0.9" fill="#d0d0d0"/>
<polyline points="240,355.6 244.2,358.1 248.4,355 252.6,357.5 256.8,354.4 261,356.9" fill="none" stroke="#9a9a9a" stroke-width="1.1" stroke-linejoin="round" />
<circle cx="244.2" cy="358.1" r="0.9" fill="#d0d0d0"/>
<circle cx="248.4" cy="355" r="0.9" fill="#d0d0d0"/>
<circle cx="252.6" cy="357.5" r="0.9" fill="#d0d0d0"/>
<circle cx="256.8" cy="354.4" r="0.9" fill="#d0d0d0"/>
<circle cx="262.1" cy="354.7" r="1.1" fill="#30c030"/>
<ellipse cx="235.3" cy="358.3" rx="5" ry="3.6" fill="url(#gy)" transform="rotate(-25 235.3 358.3)"/>
<ellipse cx="241.8" cy="357.2" rx="2.2" ry="2.8" fill="url(#gb)" transform="rotate(-20 241.8 357.2)"/>
<ellipse cx="244.8" cy="355.8" rx="2" ry="2.9" fill="url(#gy)" transform="rotate(-20 244.8 355.8)"/>
<ellipse cx="248.3" cy="353.2" rx="2" ry="2.5" fill="url(#gb)" transform="rotate(-20 248.3 353.2)"/>
<ellipse cx="251.5" cy="356.2" rx="1.6" ry="2.2" fill="url(#gy)" transform="rotate(-20 251.5 356.2)"/>
<circle cx="227.3" cy="421.9" r="0.9" fill="#b060d0"/>
<polyline points="233.4,424.6 237.05,426.4 240.7,422.6 244.35,424.4 248,420.6" fill="none" stroke="#9a9a9a" stroke-width="1.1" stroke-linejoin="round" />
<circle cx="237.05" cy="426.4" r="0.9" fill="#d0d0d0"/>
<circle cx="240.7" cy="422.6" r="0.9" fill="#d0d0d0"/>
<circle cx="244.35" cy="424.4" r="0.9" fill="#d0d0d0"/>
<circle cx="233.4" cy="426" r="1" fill="#30c030"/>
<ellipse cx="249.9" cy="426.3" rx="2.6" ry="2.2" fill="url(#gb)"/>
<ellipse cx="255.1" cy="421" rx="4" ry="3.8" fill="url(#gy)"/>
<polyline points="300,355.6 303.94,359.1 307.88,357 311.82,360.5 315.76,358.4 319.7,361.9" fill="none" stroke="#9a9a9a" stroke-width="1.1" stroke-linejoin="round" />
<circle cx="303.94" cy="359.1" r="0.9" fill="#d0d0d0"/>
<circle cx="307.88" cy="357" r="0.9" fill="#d0d0d0"/>
<circle cx="311.82" cy="360.5" r="0.9" fill="#d0d0d0"/>
<circle cx="315.76" cy="358.4" r="0.9" fill="#d0d0d0"/>
<circle cx="319.7" cy="360.5" r="1.1" fill="#30c030"/>
<ellipse cx="292.4" cy="358.3" rx="5" ry="3.6" fill="url(#gb)" transform="rotate(-15 292.4 358.3)"/>
<ellipse cx="298.5" cy="357.5" rx="2" ry="2.8" fill="url(#gy)" transform="rotate(-20 298.5 357.5)"/>
<ellipse cx="302" cy="356.5" rx="1.9" ry="2.6" fill="url(#gb)" transform="rotate(-20 302 356.5)"/>
<ellipse cx="305.8" cy="355" rx="1.9" ry="2.7" fill="url(#gy)" transform="rotate(-20 305.8 355)"/>
<ellipse cx="309.6" cy="356" rx="1.6" ry="2" fill="url(#gb)" transform="rotate(-20 309.6 356)"/>
<circle cx="288.5" cy="416.3" r="0.9" fill="#b060d0"/>
<polyline points="294.2,417.9 298.4,420.12 302.6,416.75 306.8,418.97 311,415.6" fill="none" stroke="#9a9a9a" stroke-width="1.1" stroke-linejoin="round" />
<circle cx="298.4" cy="420.12" r="0.9" fill="#d0d0d0"/>
<circle cx="302.6" cy="416.75" r="0.9" fill="#d0d0d0"/>
<circle cx="306.8" cy="418.97" r="0.9" fill="#d0d0d0"/>
<circle cx="294.2" cy="419.3" r="1" fill="#30c030"/>
<ellipse cx="313.5" cy="416.3" rx="2.6" ry="3" fill="url(#gy)"/>
<ellipse cx="317" cy="420.3" rx="3.8" ry="3.7" fill="url(#gb)"/>
<polyline points="350,384.3 355,386.03 360,382.97 365,384.7 370,381.63 375,383.37 380,380.3" fill="none" stroke="#9a9a9a" stroke-width="1.1" stroke-linejoin="round" />
<circle cx="355" cy="386.03" r="0.9" fill="#d0d0d0"/>
<circle cx="360" cy="382.97" r="0.9" fill="#d0d0d0"/>
<circle cx="365" cy="384.7" r="0.9" fill="#d0d0d0"/>
<circle cx="370" cy="381.63" r="0.9" fill="#d0d0d0"/>
<circle cx="375" cy="383.37" r="0.9" fill="#d0d0d0"/>
<ellipse cx="348.8" cy="386.8" rx="3.2" ry="2.6" fill="url(#gb)" transform="rotate(-25 348.8 386.8)"/>
<ellipse cx="354.8" cy="384.2" rx="1.9" ry="2.6" fill="url(#gy)" transform="rotate(-20 354.8 384.2)"/>
<ellipse cx="359" cy="384.4" rx="1.9" ry="2.6" fill="url(#gb)" transform="rotate(-20 359 384.4)"/>
<ellipse cx="362.5" cy="382.3" rx="1.9" ry="2.6" fill="url(#gy)" transform="rotate(-20 362.5 382.3)"/>
<ellipse cx="366.8" cy="384.2" rx="1.9" ry="2.6" fill="url(#gb)" transform="rotate(-20 366.8 384.2)"/>
<ellipse cx="370.5" cy="382.3" rx="1.9" ry="2.6" fill="url(#gy)" transform="rotate(-20 370.5 382.3)"/>
<ellipse cx="374.5" cy="383.5" rx="1.9" ry="2.6" fill="url(#gb)" transform="rotate(-20 374.5 383.5)"/>
<ellipse cx="379" cy="381" rx="3.2" ry="2.6" fill="url(#gy)" transform="rotate(-25 379 381)"/>
<circle cx="346" cy="384" r="0.8" fill="#b060d0"/>
<circle cx="383" cy="383" r="0.8" fill="#b060d0"/>
<polyline points="358,478.7 362,481.55 366,479.2 370,482.05 374,479.7" fill="none" stroke="#9a9a9a" stroke-width="1.1" stroke-linejoin="round" />
<circle cx="362" cy="481.55" r="0.9" fill="#d0d0d0"/>
<circle cx="366" cy="479.2" r="0.9" fill="#d0d0d0"/>
<circle cx="370" cy="482.05" r="0.9" fill="#d0d0d0"/>
<ellipse cx="355" cy="481.3" rx="3.6" ry="3.4" fill="url(#gb)"/>
<ellipse cx="360.5" cy="476.8" rx="1.9" ry="1.9" fill="url(#gy)"/>
<ellipse cx="370.5" cy="484" rx="2" ry="2" fill="url(#gy)"/>
<ellipse cx="376.2" cy="479.2" rx="3.6" ry="3.4" fill="url(#gb)"/>
<circle cx="348" cy="478.5" r="0.8" fill="#b060d0"/>
<circle cx="383.3" cy="482.5" r="0.8" fill="#b060d0"/>
<polyline points="411,376.8 415,379.06 419,376.51 423,378.77 427,376.23 431,378.49 435,375.94 439,378.2" fill="none" stroke="#9a9a9a" stroke-width="1.1" stroke-linejoin="round" />
<circle cx="415" cy="379.06" r="0.9" fill="#d0d0d0"/>
<circle cx="419" cy="376.51" r="0.9" fill="#d0d0d0"/>
<circle cx="423" cy="378.77" r="0.9" fill="#d0d0d0"/>
<circle cx="427" cy="376.23" r="0.9" fill="#d0d0d0"/>
<circle cx="431" cy="378.49" r="0.9" fill="#d0d0d0"/>
<circle cx="435" cy="375.94" r="0.9" fill="#d0d0d0"/>
<ellipse cx="409.8" cy="377" rx="3.6" ry="2.7" fill="url(#gy)" transform="rotate(-15 409.8 377)"/>
<ellipse cx="415.5" cy="379" rx="1.8" ry="2.4" fill="url(#gb)"/>
<ellipse cx="419.5" cy="377.3" rx="1.8" ry="2.4" fill="url(#gy)"/>
<ellipse cx="423.3" cy="379" rx="1.8" ry="2.4" fill="url(#gb)"/>
<ellipse cx="427" cy="377.3" rx="1.8" ry="2.4" fill="url(#gy)"/>
<ellipse cx="430.8" cy="379" rx="1.8" ry="2.4" fill="url(#gb)"/>
<ellipse cx="434.5" cy="377" rx="1.8" ry="2.4" fill="url(#gy)"/>
<ellipse cx="439.5" cy="376" rx="3.6" ry="2.7" fill="url(#gy)" transform="rotate(-15 439.5 376)"/>
<circle cx="405.7" cy="378" r="0.8" fill="#b060d0"/>
<circle cx="444.4" cy="377" r="0.8" fill="#b060d0"/>
<polyline points="412,478.7 416,481.3 420,478.7 424,481.3 428,478.7 432,481.3" fill="none" stroke="#9a9a9a" stroke-width="1.1" stroke-linejoin="round" />
<circle cx="416" cy="481.3" r="0.9" fill="#d0d0d0"/>
<circle cx="420" cy="478.7" r="0.9" fill="#d0d0d0"/>
<circle cx="424" cy="481.3" r="0.9" fill="#d0d0d0"/>
<circle cx="428" cy="478.7" r="0.9" fill="#d0d0d0"/>
<ellipse cx="409" cy="478" rx="3.6" ry="3.4" fill="url(#gy)"/>
<ellipse cx="413.3" cy="483" rx="2" ry="2" fill="url(#gb)"/>
<ellipse cx="428" cy="484" rx="2" ry="2" fill="url(#gy)"/>
<ellipse cx="433.5" cy="478" rx="3.6" ry="3.4" fill="url(#gb)"/>
<ellipse cx="418.5" cy="480.5" rx="1.6" ry="1.6" fill="url(#gy)"/>
<circle cx="401.5" cy="482" r="0.8" fill="#b060d0"/>
<circle cx="440.8" cy="482" r="0.8" fill="#b060d0"/>
<clipPath id="cg"><rect x="492.5" y="349.6" width="184.5" height="136.7"/></clipPath>
<g clip-path="url(#cg)">
<polyline points="524.5,425.4 677,425.6" fill="none" stroke="#a8a8a8" stroke-width="1.5" stroke-linejoin="round" />
<path d="M528,425.4C530,425.03 530,424.9 534,424.3C538,423.7 536.67,423.63 540,423.6C543.33,423.57 541.33,423.6 544,424.2C546.67,424.8 546.67,425 548,425.4" fill="none" stroke="#c4c4c4" stroke-width="1.3" stroke-linejoin="round"/>
<path d="M499.9,446.2C502.27,443.3 501.97,442.5 507,437.5C512.03,432.5 509.67,434.7 515,431.2C520.33,427.7 518.23,428.93 523,427C527.77,425.07 525.3,427.33 529.3,425.4C533.3,423.47 529.77,424.8 535,421.2C540.23,417.6 539.33,418.17 545,414.6C550.67,411.03 548,412.7 552,410.5C556,408.3 554.1,409.17 557,408C559.9,406.83 558.53,406.83 560.7,407C562.87,407.17 561.57,405.97 563.5,408.5C565.43,411.03 564.17,408.97 566.5,414.6C568.83,420.23 569.17,421.8 570.5,425.4" fill="none" stroke="#3cc3e3" stroke-width="1.3" stroke-linejoin="round"/>
<path d="M500.5,449C503.33,445.67 503.17,445 509,439C514.83,433 512.33,435.17 518,431C523.67,426.83 522.23,428.37 526,426.5C529.77,424.63 528.2,425.77 529.3,425.4" fill="none" stroke="#3cc3e3" stroke-width="1.0" stroke-linejoin="round"/>
<path d="M499.9,451.3C501.6,449.2 501.63,448.77 505,445C508.37,441.23 505,444.83 510,440C515,435.17 514.67,435.37 520,430.5C525.33,425.63 524,427.1 526,425.4" fill="none" stroke="#c0c0c0" stroke-width="1.3" stroke-linejoin="round"/>
<path d="M499.9,454.5C501.27,452 500.63,451.83 504,447C507.37,442.17 504.67,445.17 510,440C515.33,434.83 513.57,436.37 520,431.5C526.43,426.63 524.63,429.07 529.3,425.4C533.97,421.73 530.43,424.47 534,420.5C537.57,416.53 535.67,418.17 540,413.5C544.33,408.83 543,410.5 547,406.5C551,402.5 549,404.83 552,401.5C555,398.17 553.73,398.9 556,396.5C558.27,394.1 557.13,394.3 558.8,394.3C560.47,394.3 559.93,392.93 561,396.5C562.07,400.07 561.33,397.83 562,405C562.67,412.17 562.43,411.2 563,418C563.57,424.8 563.47,422.93 563.7,425.4" fill="none" stroke="#178c8c" stroke-width="1.3" stroke-linejoin="round"/>
<path d="M500,452C504,447 504.67,444.5 512,437C519.33,429.5 516.23,433.37 522,429.5C527.77,425.63 526.87,426.77 529.3,425.4" fill="none" stroke="#178c8c" stroke-width="1.0" stroke-linejoin="round"/>
<path d="M499.9,451.9C501.27,448.93 500.97,448.8 504,443C507.03,437.2 505.67,438.83 509,434.5C512.33,430.17 510.33,432.33 514,430C517.67,427.67 516.33,429.03 520,427.5C523.67,425.97 523.33,426.1 525,425.4" fill="none" stroke="#111" stroke-width="1.3" stroke-linejoin="round"/>
<path d="M500.5,449.5C502.33,445.67 502.17,444 506,438C509.83,432 507.67,434.77 512,431.5C516.33,428.23 514.67,430.23 519,428.2C523.33,426.17 523,426.33 525,425.4" fill="none" stroke="#222" stroke-width="0.9" stroke-linejoin="round"/>
<path d="M499.9,470.4C504.77,462.93 504.7,463 514.5,448C524.3,433 521.47,437.23 529.3,425.4C537.13,413.57 532.77,420.13 538,412.5C543.23,404.87 541,408.17 545,402.5C549,396.83 547.17,401 550,395.5C552.83,390 551.2,391.1 553.5,386C555.8,380.9 554.9,381.7 556.9,380.2C558.9,378.7 558.03,378.23 559.5,381.5C560.97,384.77 560.2,381.17 561.3,390C562.4,398.83 561.73,397.83 562.8,408C563.87,418.17 563.5,414.7 564.5,420.5C565.5,426.3 565.37,423.77 565.8,425.4" fill="none" stroke="#1c1ca8" stroke-width="1.4" stroke-linejoin="round"/>
<path d="M499.9,470.4C501.43,466.27 501.6,466.2 504.5,458C507.4,449.8 505.43,452.47 508.6,445.8C511.77,439.13 510.2,442.6 514,438C517.8,433.4 516.33,435.33 520,432C523.67,428.67 521.9,430.2 525,428C528.1,425.8 527.87,426.27 529.3,425.4" fill="none" stroke="#1c1ca8" stroke-width="1.3" stroke-linejoin="round"/>
<path d="M499.9,473.6C504.77,465.57 504.83,465.57 514.5,449.5C524.17,433.43 522.07,435.77 528.9,425.4C535.73,415.03 529.63,425.6 535,418.4C540.37,411.2 540,411.77 545,403.8C550,395.83 546.67,401.77 550,394.5C553.33,387.23 552.4,388.33 555,382C557.6,375.67 556.13,378.73 557.8,375.5C559.47,372.27 558.5,372.8 560,372.3C561.5,371.8 561.2,369.77 562.3,374C563.4,378.23 562.73,374.67 563.3,385C563.87,395.33 563.5,391.53 564,405C564.5,418.47 564.53,418.6 564.8,425.4" fill="none" stroke="#f59494" stroke-width="1.3" stroke-linejoin="round"/>
<path d="M499.9,473.6C501.27,469.73 501.3,469.87 504,462C506.7,454.13 505,457 508,450C511,443 509,446.67 513,441C517,435.33 514.57,438.2 520,433C525.43,427.8 526.2,427.93 529.3,425.4" fill="none" stroke="#f59494" stroke-width="1.1" stroke-linejoin="round"/>
<line x1="583.14" y1="423.88" x2="583.14" y2="425.7" stroke="#1c1ca8" stroke-width="0.8" />
</g>
<rect x="492.5" y="349.6" width="184.5" height="136.7" fill="none" stroke="#333" stroke-width="0.9"/>
<line x1="499.8" y1="486.3" x2="499.8" y2="489.3" stroke="#333" stroke-width="0.8" />
<text transform="translate(499.8,498.3) scale(1,1.1)" font-size="9.0" text-anchor="middle" fill="#111" >−0.2</text>
<line x1="529.3" y1="486.3" x2="529.3" y2="489.3" stroke="#333" stroke-width="0.8" />
<text transform="translate(529.3,498.3) scale(1,1.1)" font-size="9.0" text-anchor="middle" fill="#111" >0.0</text>
<line x1="558.8" y1="486.3" x2="558.8" y2="489.3" stroke="#333" stroke-width="0.8" />
<text transform="translate(558.8,498.3) scale(1,1.1)" font-size="9.0" text-anchor="middle" fill="#111" >0.2</text>
<line x1="588.3" y1="486.3" x2="588.3" y2="489.3" stroke="#333" stroke-width="0.8" />
<text transform="translate(588.3,498.3) scale(1,1.1)" font-size="9.0" text-anchor="middle" fill="#111" >0.4</text>
<line x1="617.8" y1="486.3" x2="617.8" y2="489.3" stroke="#333" stroke-width="0.8" />
<text transform="translate(617.8,498.3) scale(1,1.1)" font-size="9.0" text-anchor="middle" fill="#111" >0.6</text>
<line x1="647.3" y1="486.3" x2="647.3" y2="489.3" stroke="#333" stroke-width="0.8" />
<text transform="translate(647.3,498.3) scale(1,1.1)" font-size="9.0" text-anchor="middle" fill="#111" >0.8</text>
<line x1="676.8" y1="486.3" x2="676.8" y2="489.3" stroke="#333" stroke-width="0.8" />
<text transform="translate(676.8,498.3) scale(1,1.1)" font-size="9.0" text-anchor="middle" fill="#111" >1.0</text>
<line x1="514.55" y1="486.3" x2="514.55" y2="488" stroke="#333" stroke-width="0.8" />
<line x1="544.05" y1="486.3" x2="544.05" y2="488" stroke="#333" stroke-width="0.8" />
<line x1="573.55" y1="486.3" x2="573.55" y2="488" stroke="#333" stroke-width="0.8" />
<line x1="603.05" y1="486.3" x2="603.05" y2="488" stroke="#333" stroke-width="0.8" />
<line x1="632.55" y1="486.3" x2="632.55" y2="488" stroke="#333" stroke-width="0.8" />
<line x1="662.05" y1="486.3" x2="662.05" y2="488" stroke="#333" stroke-width="0.8" />
<line x1="489.5" y1="486.3" x2="492.5" y2="486.3" stroke="#333" stroke-width="0.8" />
<text transform="translate(488.2,489.36) scale(1,1.1)" font-size="9.0" text-anchor="end" fill="#111" >−2</text>
<line x1="489.5" y1="455.85" x2="492.5" y2="455.85" stroke="#333" stroke-width="0.8" />
<text transform="translate(488.2,458.91) scale(1,1.1)" font-size="9.0" text-anchor="end" fill="#111" >−1</text>
<line x1="489.5" y1="425.4" x2="492.5" y2="425.4" stroke="#333" stroke-width="0.8" />
<text transform="translate(488.2,428.46) scale(1,1.1)" font-size="9.0" text-anchor="end" fill="#111" >0</text>
<line x1="489.5" y1="394.95" x2="492.5" y2="394.95" stroke="#333" stroke-width="0.8" />
<text transform="translate(488.2,398.01) scale(1,1.1)" font-size="9.0" text-anchor="end" fill="#111" >1</text>
<line x1="489.5" y1="364.5" x2="492.5" y2="364.5" stroke="#333" stroke-width="0.8" />
<text transform="translate(488.2,367.56) scale(1,1.1)" font-size="9.0" text-anchor="end" fill="#111" >2</text>
<line x1="490.8" y1="471.07" x2="492.5" y2="471.07" stroke="#333" stroke-width="0.8" />
<line x1="490.8" y1="440.62" x2="492.5" y2="440.62" stroke="#333" stroke-width="0.8" />
<line x1="490.8" y1="410.17" x2="492.5" y2="410.17" stroke="#333" stroke-width="0.8" />
<line x1="490.8" y1="379.72" x2="492.5" y2="379.72" stroke="#333" stroke-width="0.8" />
<text transform="translate(541.8,509.2) scale(1,1.1)" font-size="9.3" text-anchor="start" fill="#222" >Potential (V vs Li/Li<tspan dy="-3.53" font-size="5.77">+</tspan><tspan dy="3.53">)</tspan></text>
<text transform="translate(471.3,418.7) rotate(-90) scale(1,1.0)" font-size="9.2" text-anchor="middle" fill="#222">Current density (mA cm<tspan dy="-3.50" font-size="5.70">-2</tspan><tspan dy="3.50">)</tspan></text>
<text transform="translate(463,353.8) scale(1,1.0)" font-size="17" text-anchor="start" fill="#000" font-weight="bold" >g</text>
<text transform="translate(619.9,365.3) scale(1,1.05)" font-size="11.7" text-anchor="start" fill="#000" font-weight="bold" >0.1 mV s<tspan dy="-4.6" font-size="7.6">-1</tspan></text>
<line x1="596.4" y1="436.8" x2="612.4" y2="436.8" stroke="#3cc3e3" stroke-width="1.3" />
<text transform="translate(614.7,439.3) scale(1,1.1)" font-size="7.05" text-anchor="start" fill="#1a1a1a" >LiFSI-TEP</text>
<line x1="596.4" y1="445.52" x2="612.4" y2="445.52" stroke="#178c8c" stroke-width="1.3" />
<text transform="translate(614.7,448.02) scale(1,1.1)" font-size="7.05" text-anchor="start" fill="#1a1a1a" >LiFSI-TEP/C1-2Cl</text>
<line x1="596.4" y1="454.24" x2="612.4" y2="454.24" stroke="#1c1ca8" stroke-width="1.3" />
<text transform="translate(614.7,456.74) scale(1,1.1)" font-size="7.05" text-anchor="start" fill="#1a1a1a" >LiFSI-TEP/C2-2Cl</text>
<line x1="596.4" y1="462.96" x2="612.4" y2="462.96" stroke="#f59494" stroke-width="1.3" />
<text transform="translate(614.7,465.46) scale(1,1.1)" font-size="7.05" text-anchor="start" fill="#1a1a1a" >LiFSI-TEP/C3-2Cl</text>
<line x1="596.4" y1="471.68" x2="612.4" y2="471.68" stroke="#111" stroke-width="1.3" />
<text transform="translate(614.7,474.18) scale(1,1.1)" font-size="7.05" text-anchor="start" fill="#1a1a1a" >LiFSI-TEP/C4-2Cl</text>
<line x1="596.4" y1="480.4" x2="612.4" y2="480.4" stroke="#c4c4c4" stroke-width="1.3" />
<text transform="translate(614.7,482.9) scale(1,1.1)" font-size="7.05" text-anchor="start" fill="#1a1a1a" >LiFSI-TEP/C5-2Cl</text>
</svg></body></html>
